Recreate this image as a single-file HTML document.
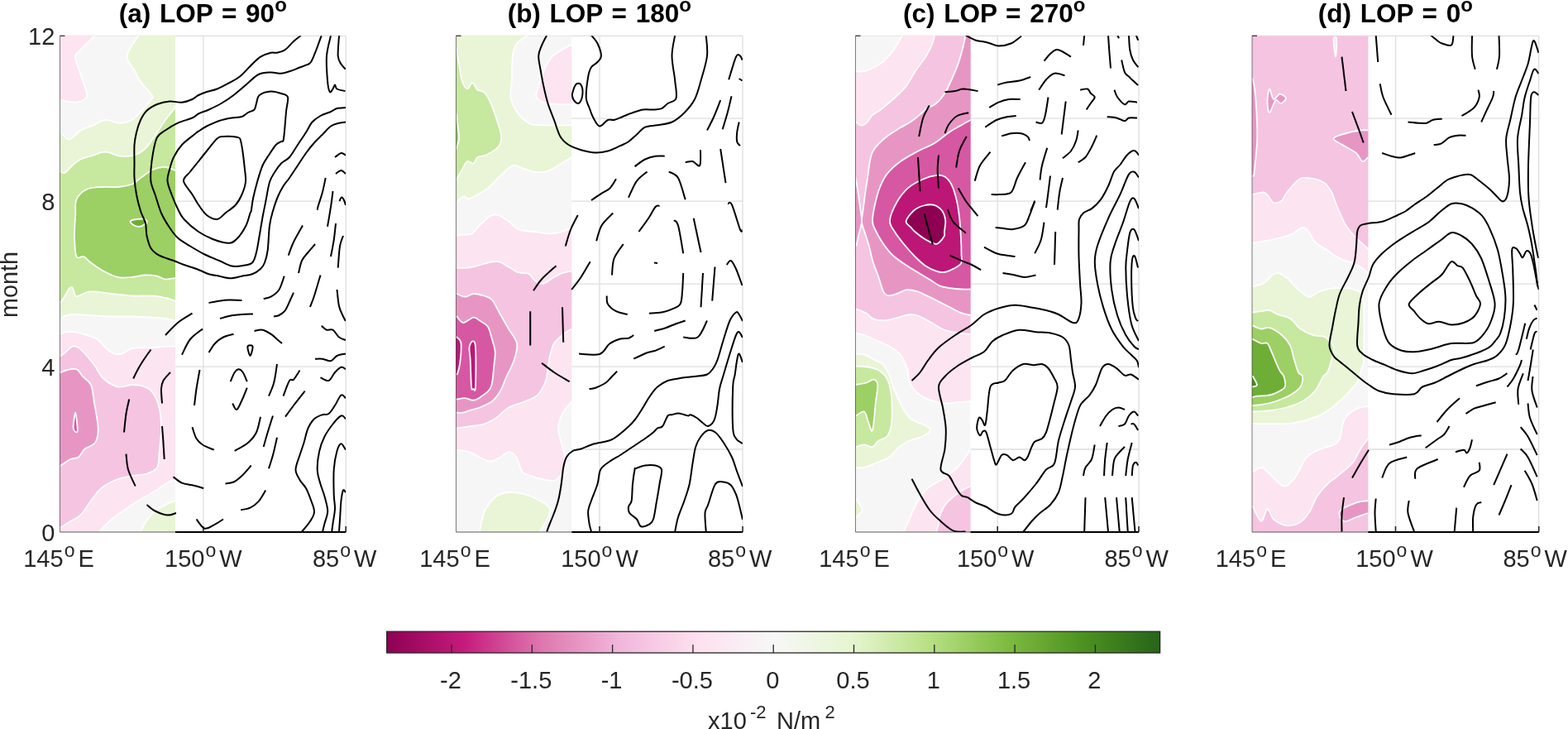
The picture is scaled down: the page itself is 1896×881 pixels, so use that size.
<!DOCTYPE html><html><head><meta charset="utf-8"><title>LOP panels</title><style>html,body{margin:0;padding:0;background:#fff;overflow:hidden}svg{display:block}</style></head><body><svg width="1896" height="881" viewBox="0 0 1896 881"><rect width="1896" height="881" fill="#fff"/><clipPath id="c0"><rect x="72.5" y="43.3" width="139.5" height="599.7"/></clipPath>
<clipPath id="a0"><rect x="72.5" y="43.3" width="345.7" height="599.7"/></clipPath>
<g stroke="#dedede" stroke-width="1.3" fill="none">
<line x1="72.5" y1="43.3" x2="418.2" y2="43.3"/>
<line x1="418.2" y1="43.3" x2="418.2" y2="643"/>
<line x1="245.8" y1="43.3" x2="245.8" y2="643"/>
<line x1="72.5" y1="243.2" x2="418.2" y2="243.2"/>
<line x1="72.5" y1="443.1" x2="418.2" y2="443.1"/>
</g>
<g clip-path="url(#c0)">
<rect x="72.5" y="43.3" width="139.5" height="599.7" fill="#f6f6f6"/>
<path d="M60.0,121.0 L60.0,30.0 L117.0,30.0 L115.0,42.5 C112.1,45.4 101.5,55.6 97.5,60.0 C93.5,64.4 91.0,63.7 91.0,68.7 C91.0,73.7 95.2,82.7 97.5,90.0 C99.8,97.3 104.0,107.7 105.0,112.5 C106.0,117.3 105.8,116.8 103.7,118.7 C101.6,120.6 97.5,123.3 92.5,123.7 C87.5,124.1 76.8,121.5 73.7,121.0Z" fill="#fce4f0" stroke="#fff" stroke-width="1.8" stroke-linejoin="round"/>
<path d="M170.0,30.0 L167.5,42.5 C165.2,46.7 154.5,60.4 153.7,67.5 C152.9,74.6 159.6,79.6 162.5,85.0 C165.4,90.4 167.5,95.0 171.0,100.0 C174.5,105.0 181.8,111.5 183.7,115.0 C185.6,118.5 184.8,117.7 182.5,121.0 C180.2,124.3 174.2,130.8 170.0,135.0 C165.8,139.2 161.9,143.7 157.5,146.0 C153.1,148.3 148.7,148.9 143.7,148.7 C138.7,148.5 133.1,144.4 127.5,145.0 C121.9,145.6 115.0,150.4 110.0,152.5 C105.0,154.6 101.9,154.8 97.5,157.5 C93.1,160.2 87.7,168.3 83.7,168.7 C79.7,169.1 75.4,161.4 73.7,160.0 L60.0,160.0 L60.0,385.0 L73.7,385.0 C74.8,384.4 77.3,382.0 80.0,381.2 C82.7,380.4 85.0,380.0 90.0,380.0 C95.0,380.0 102.5,380.8 110.0,381.2 C117.5,381.6 126.7,382.3 135.0,382.5 C143.3,382.7 151.7,382.3 160.0,382.5 C168.3,382.7 178.3,383.3 185.0,383.7 C191.7,384.1 195.5,384.4 200.0,385.0 C204.5,385.6 210.0,387.1 212.0,387.5 L225.0,387.5 L225.0,30.0Z" fill="#e9f5d6" stroke="#fff" stroke-width="1.8" stroke-linejoin="round"/>
<path d="M225.0,130.0 L212.0,130.0 C210.0,132.5 204.5,138.8 200.0,145.0 C195.5,151.2 189.2,161.7 185.0,167.5 C180.8,173.3 178.8,176.7 175.0,180.0 C171.2,183.3 167.5,186.1 162.5,187.5 C157.5,188.9 150.8,189.3 145.0,188.7 C139.2,188.1 133.3,183.7 127.5,183.7 C121.7,183.7 115.0,187.2 110.0,188.7 C105.0,190.2 101.2,190.6 97.5,192.5 C93.8,194.4 90.6,197.3 87.5,200.0 C84.4,202.7 81.0,207.4 78.7,208.7 C76.4,209.9 74.5,207.7 73.7,207.5 L60.0,207.5 L60.0,365.0 L73.7,365.0 C74.8,363.3 78.3,357.7 80.0,355.0 C81.7,352.3 82.5,349.9 83.7,348.7 C85.0,347.4 86.2,346.0 87.5,347.5 C88.8,349.0 90.0,355.8 91.2,357.5 C92.5,359.2 91.9,358.3 95.0,357.5 C98.1,356.7 103.3,352.9 110.0,352.5 C116.7,352.1 126.7,354.2 135.0,355.0 C143.3,355.8 151.7,357.1 160.0,357.5 C168.3,357.9 178.3,357.1 185.0,357.5 C191.7,357.9 195.5,359.0 200.0,360.0 C204.5,361.0 210.0,363.1 212.0,363.7 L225.0,363.7Z" fill="#c7e89f" stroke="#fff" stroke-width="1.8" stroke-linejoin="round"/>
<path d="M225.0,206.0 L212.0,206.0 C210.0,205.3 204.5,202.2 200.0,202.0 C195.5,201.8 190.0,202.8 185.0,205.0 C180.0,207.2 174.2,212.1 170.0,215.0 C165.8,217.9 164.6,220.7 160.0,222.5 C155.4,224.3 148.3,225.4 142.5,226.0 C136.7,226.6 131.2,225.6 125.0,226.0 C118.8,226.4 110.4,226.2 105.0,228.7 C99.6,231.2 94.8,235.8 92.5,241.0 C90.2,246.2 91.6,252.7 91.2,260.0 C90.8,267.3 89.8,276.7 90.0,285.0 C90.2,293.3 90.6,305.8 92.5,310.0 C94.4,314.2 98.3,308.8 101.2,310.0 C104.1,311.2 106.0,314.6 110.0,317.5 C114.0,320.4 119.6,324.6 125.0,327.5 C130.4,330.4 136.7,333.8 142.5,335.0 C148.3,336.2 154.6,335.4 160.0,335.0 C165.4,334.6 170.0,332.7 175.0,332.5 C180.0,332.3 185.8,332.9 190.0,333.7 C194.2,334.5 196.3,337.1 200.0,337.5 C203.7,337.9 210.0,336.2 212.0,336.0 L225.0,336.0Z" fill="#9ccf64" stroke="#fff" stroke-width="1.8" stroke-linejoin="round"/>
<path d="M157.5,267.5 C157.9,266.2 162.1,265.4 165.0,265.0 C167.9,264.6 172.9,264.4 175.0,265.0 C177.1,265.6 178.3,267.2 177.5,268.7 C176.7,270.1 172.5,273.1 170.0,273.7 C167.5,274.3 164.6,273.5 162.5,272.5 C160.4,271.5 157.1,268.8 157.5,267.5Z" fill="#6eae36" stroke="#fff" stroke-width="1.8" stroke-linejoin="round"/>
<path d="M225.0,418.7 L212.0,418.7 C210.0,418.7 204.5,418.5 200.0,418.7 C195.5,418.9 191.7,419.6 185.0,420.0 C178.3,420.4 166.2,419.9 160.0,421.2 C153.8,422.4 151.2,426.4 147.5,427.5 C143.8,428.6 140.8,428.8 137.5,427.5 C134.2,426.2 130.8,422.9 127.5,420.0 C124.2,417.1 121.2,412.5 117.5,410.0 C113.8,407.5 109.6,406.5 105.0,405.0 C100.4,403.5 94.2,401.8 90.0,401.2 C85.8,400.6 82.7,400.8 80.0,401.2 C77.3,401.6 74.8,403.3 73.7,403.7 L60.0,403.7 L60.0,655.0 L112.0,655.0 L120.0,642.5 C122.5,640.0 129.6,632.1 135.0,627.5 C140.4,622.9 147.1,618.8 152.5,615.0 C157.9,611.2 162.1,608.3 167.5,605.0 C172.9,601.7 179.6,598.3 185.0,595.0 C190.4,591.7 195.5,587.7 200.0,585.0 C204.5,582.3 210.0,579.8 212.0,578.7 L225.0,578.7Z" fill="#fce4f0" stroke="#fff" stroke-width="1.8" stroke-linejoin="round"/>
<path d="M225.0,605.0 L212.0,605.0 C210.0,605.8 204.5,607.5 200.0,610.0 C195.5,612.5 189.2,616.2 185.0,620.0 C180.8,623.8 177.5,628.8 175.0,632.5 C172.5,636.2 170.8,640.8 170.0,642.5 L167.0,655.0 L225.0,655.0Z" fill="#e9f5d6" stroke="#fff" stroke-width="1.8" stroke-linejoin="round"/>
<path d="M60.0,430.0 L73.7,430.0 C74.8,429.2 77.7,426.9 80.0,425.0 C82.3,423.1 85.0,419.5 87.5,418.7 C90.0,417.9 92.1,418.1 95.0,420.0 C97.9,421.9 101.7,426.2 105.0,430.0 C108.3,433.8 111.7,437.9 115.0,442.5 C118.3,447.1 120.4,453.3 125.0,457.5 C129.6,461.7 136.7,466.2 142.5,467.5 C148.3,468.8 154.6,465.0 160.0,465.0 C165.4,465.0 170.8,465.8 175.0,467.5 C179.2,469.2 182.1,470.8 185.0,475.0 C187.9,479.2 190.8,485.4 192.5,492.5 C194.2,499.6 195.0,508.3 195.0,517.5 C195.0,526.7 193.3,539.6 192.5,547.5 C191.7,555.4 192.5,560.8 190.0,565.0 C187.5,569.2 182.5,570.8 177.5,572.5 C172.5,574.2 166.2,573.8 160.0,575.0 C153.8,576.2 146.2,577.5 140.0,580.0 C133.8,582.5 127.5,585.8 122.5,590.0 C117.5,594.2 114.2,599.6 110.0,605.0 C105.8,610.4 101.7,618.3 97.5,622.5 C93.3,626.7 89.0,627.5 85.0,630.0 C81.0,632.5 75.6,636.2 73.7,637.5 L60.0,640.0Z" fill="#f5c4e1" stroke="#fff" stroke-width="1.8" stroke-linejoin="round"/>
<path d="M60.0,450.0 L73.7,450.0 C74.8,449.6 76.9,448.1 80.0,447.5 C83.1,446.9 89.2,444.9 92.5,446.2 C95.8,447.4 97.1,451.9 100.0,455.0 C102.9,458.1 107.7,460.0 110.0,465.0 C112.3,470.0 112.2,476.2 113.7,485.0 C115.2,493.8 118.5,509.2 118.7,517.5 C118.9,525.8 117.7,530.8 115.0,535.0 C112.3,539.2 105.8,539.6 102.5,542.5 C99.2,545.4 97.9,550.4 95.0,552.5 C92.1,554.6 88.5,553.3 85.0,555.0 C81.5,556.7 75.6,561.2 73.7,562.5 L60.0,565.0Z" fill="#e796c4" stroke="#fff" stroke-width="1.8" stroke-linejoin="round"/>
<path d="M91.2,498.7 C92.0,499.3 94.1,518.1 93.7,521.2 C93.3,524.3 89.1,521.2 88.7,517.5 C88.3,513.8 90.4,498.1 91.2,498.7Z" fill="#d658a2" stroke="#fff" stroke-width="1.8" stroke-linejoin="round"/>
</g>
<line x1="72.5" y1="643" x2="418.2" y2="643" stroke="#262626" stroke-width="1" opacity="0.75"/>
<line x1="72.5" y1="43.3" x2="72.5" y2="643" stroke="#262626" stroke-width="1" opacity="0.6"/>
<line x1="212" y1="643" x2="418.2" y2="643" stroke="#000" stroke-width="2"/>
<line x1="245.8" y1="636" x2="245.8" y2="643" stroke="#262626" stroke-width="1.6"/>
<line x1="418.2" y1="636" x2="418.2" y2="643" stroke="#262626" stroke-width="1.6"/>
<line x1="72.5" y1="43.3" x2="78.5" y2="43.3" stroke="#262626" stroke-width="1.2"/>
<g clip-path="url(#a0)" fill="none" stroke="#000" stroke-width="2" stroke-linejoin="round" stroke-linecap="butt">
<path d="M363.7,43.0 C362.2,44.2 358.1,47.2 355.0,50.0 C351.9,52.8 348.3,57.7 345.0,60.0 C341.7,62.3 337.9,63.1 335.0,63.7 C332.1,64.3 330.8,62.9 327.5,63.7 C324.2,64.5 319.2,66.0 315.0,68.7 C310.8,71.4 306.7,76.0 302.5,80.0 C298.3,84.0 294.2,89.2 290.0,92.5 C285.8,95.8 282.1,97.5 277.5,100.0 C272.9,102.5 267.1,105.7 262.5,107.5 C257.9,109.3 253.8,109.8 250.0,111.0 C246.2,112.2 242.9,113.5 240.0,115.0 C237.1,116.5 235.8,118.5 232.5,120.0 C229.2,121.5 224.6,123.3 220.0,123.7 C215.4,124.1 210.0,122.1 205.0,122.5 C200.0,122.9 194.6,124.1 190.0,126.0 C185.4,127.9 180.8,130.5 177.5,133.7 C174.2,136.9 172.1,140.6 170.0,145.0 C167.9,149.4 166.2,155.0 165.0,160.0 C163.8,165.0 162.9,168.8 162.5,175.0 C162.1,181.2 162.5,190.8 162.5,197.5 C162.5,204.2 162.1,208.8 162.5,215.0 C162.9,221.2 163.8,228.3 165.0,235.0 C166.2,241.7 168.2,249.2 170.0,255.0 C171.8,260.8 174.8,265.0 176.0,270.0 C177.2,275.0 176.4,280.0 177.5,285.0 C178.6,290.0 180.0,296.1 182.5,300.0 C185.0,303.9 187.9,306.2 192.5,308.7 C197.1,311.2 205.0,313.1 210.0,315.0 C215.0,316.9 217.5,318.2 222.5,320.0 C227.5,321.8 235.0,324.1 240.0,326.0 C245.0,327.9 248.3,329.9 252.5,331.2 C256.7,332.5 260.6,332.9 265.0,333.7 C269.4,334.5 274.1,336.2 278.7,336.2 C283.3,336.2 288.1,334.5 292.5,333.7 C296.9,332.9 301.2,332.6 305.0,331.2 C308.8,329.8 312.5,327.3 315.0,325.0 C317.5,322.7 318.6,321.2 320.0,317.5 C321.4,313.8 322.7,310.0 323.7,302.5 C324.7,295.0 324.9,280.4 326.0,272.5 C327.1,264.6 328.3,260.8 330.0,255.0 C331.7,249.2 333.9,242.5 336.0,237.5 C338.1,232.5 340.2,228.8 342.5,225.0 C344.8,221.2 347.1,219.2 350.0,215.0 C352.9,210.8 356.7,205.0 360.0,200.0 C363.3,195.0 366.7,189.6 370.0,185.0 C373.3,180.4 376.7,176.2 380.0,172.5 C383.3,168.8 386.7,165.8 390.0,162.5 C393.3,159.2 396.7,154.8 400.0,152.5 C403.3,150.2 407.0,149.5 410.0,148.7 C413.0,147.9 416.7,147.7 418.0,147.5"/>
<path d="M388.7,43.0 C387.7,45.8 384.6,54.7 382.5,60.0 C380.4,65.3 378.1,71.9 376.0,75.0 C373.9,78.1 372.7,77.5 370.0,78.7 C367.3,80.0 363.3,81.2 360.0,82.5 C356.7,83.8 353.3,85.2 350.0,86.2 C346.7,87.2 343.8,88.5 340.0,88.7 C336.2,88.9 332.1,87.3 327.5,87.5 C322.9,87.7 317.5,87.5 312.5,90.0 C307.5,92.5 302.5,98.3 297.5,102.5 C292.5,106.7 287.5,111.2 282.5,115.0 C277.5,118.8 272.5,122.1 267.5,125.0 C262.5,127.9 257.1,130.4 252.5,132.5 C247.9,134.6 243.3,135.8 240.0,137.5 C236.7,139.2 236.7,140.6 232.5,142.5 C228.3,144.4 220.4,146.2 215.0,148.7 C209.6,151.2 204.2,154.6 200.0,157.5 C195.8,160.4 192.5,161.4 190.0,166.0 C187.5,170.6 186.2,178.5 185.0,185.0 C183.8,191.5 182.9,199.2 182.5,205.0 C182.1,210.8 181.7,215.0 182.5,220.0 C183.3,225.0 185.4,228.8 187.5,235.0 C189.6,241.2 192.1,250.8 195.0,257.5 C197.9,264.2 201.7,270.0 205.0,275.0 C208.3,280.0 210.8,283.8 215.0,287.5 C219.2,291.2 224.6,294.2 230.0,297.5 C235.4,300.8 241.7,304.6 247.5,307.5 C253.3,310.4 259.6,312.7 265.0,315.0 C270.4,317.3 275.4,320.5 280.0,321.5 C284.6,322.5 288.3,321.9 292.5,321.2 C296.7,320.5 302.1,320.2 305.0,317.5 C307.9,314.8 308.6,310.4 310.0,305.0 C311.4,299.6 312.4,292.1 313.7,285.0 C314.9,277.9 316.3,269.2 317.5,262.5 C318.7,255.8 319.6,252.1 321.0,245.0 C322.4,237.9 324.1,226.2 326.0,220.0 C327.9,213.8 330.2,211.2 332.5,207.5 C334.8,203.8 337.1,200.4 340.0,197.5 C342.9,194.6 346.7,193.8 350.0,190.0 C353.3,186.2 356.7,180.0 360.0,175.0 C363.3,170.0 367.1,164.6 370.0,160.0 C372.9,155.4 374.6,150.8 377.5,147.5 C380.4,144.2 383.8,142.1 387.5,140.0 C391.2,137.9 396.7,136.5 400.0,135.0 C403.3,133.5 404.5,131.8 407.5,131.0 C410.5,130.2 416.2,130.2 418.0,130.0"/>
<path d="M303.7,255.0 C304.3,252.1 304.8,245.8 306.0,240.0 C307.2,234.2 309.1,226.7 311.0,220.0 C312.9,213.3 315.2,205.4 317.5,200.0 C319.8,194.6 322.3,191.7 325.0,187.5 C327.7,183.3 331.2,177.8 333.7,175.0 C336.2,172.2 338.4,172.2 340.0,171.0 C341.6,169.8 342.0,173.5 343.0,167.5 C344.0,161.5 345.2,143.3 346.0,135.0 C346.8,126.7 349.0,121.2 348.0,117.5 C347.0,113.8 343.4,114.2 340.0,113.0 C336.6,111.8 331.9,110.2 327.5,110.5 C323.1,110.8 316.6,112.6 313.7,115.0 C310.8,117.4 311.0,122.1 310.0,125.0 C309.0,127.9 309.2,130.7 307.5,132.5 C305.8,134.3 302.5,134.6 300.0,136.0 C297.5,137.4 295.8,139.9 292.5,141.0 C289.2,142.1 284.6,141.7 280.0,142.5 C275.4,143.3 270.0,144.3 265.0,146.0 C260.0,147.7 254.2,150.4 250.0,152.5 C245.8,154.6 242.5,157.0 240.0,158.7 C237.5,160.4 238.3,159.8 235.0,162.5 C231.7,165.2 224.2,170.4 220.0,175.0 C215.8,179.6 212.5,185.0 210.0,190.0 C207.5,195.0 206.2,200.2 205.0,205.0 C203.8,209.8 202.1,213.7 202.5,218.7 C202.9,223.7 205.4,229.4 207.5,235.0 C209.6,240.6 212.5,247.5 215.0,252.5 C217.5,257.5 218.3,260.4 222.5,265.0 C226.7,269.6 233.8,275.8 240.0,280.0 C246.2,284.2 253.8,287.7 260.0,290.0 C266.2,292.3 272.9,294.1 277.5,293.7 C282.1,293.3 284.2,291.0 287.5,287.5 C290.8,284.0 295.0,277.5 297.5,272.5 C300.0,267.5 301.5,260.4 302.5,257.5 C303.5,254.6 303.1,257.9 303.7,255.0Z"/>
<path d="M222.0,218.7 C221.6,214.1 227.0,211.4 230.0,207.5 C233.0,203.6 236.7,199.2 240.0,195.0 C243.3,190.8 246.2,187.1 250.0,182.5 C253.8,177.9 259.2,170.4 262.5,167.5 C265.8,164.6 265.8,165.2 270.0,165.0 C274.2,164.8 284.0,165.2 287.5,166.0 C291.0,166.8 290.0,166.8 291.0,170.0 C292.0,173.2 292.9,179.2 293.7,185.0 C294.5,190.8 295.4,199.2 296.0,205.0 C296.6,210.8 297.6,215.0 297.0,220.0 C296.4,225.0 294.5,230.4 292.5,235.0 C290.5,239.6 288.3,243.8 285.0,247.5 C281.7,251.2 276.2,254.6 272.5,257.5 C268.8,260.4 266.2,264.6 262.5,265.0 C258.8,265.4 253.8,262.9 250.0,260.0 C246.2,257.1 242.9,251.7 240.0,247.5 C237.1,243.3 235.5,239.8 232.5,235.0 C229.5,230.2 222.4,223.3 222.0,218.7Z"/>
<path d="M400.0,43.0 C399.2,47.1 395.7,58.4 395.0,67.5 C394.3,76.6 395.4,90.2 396.0,97.5 C396.6,104.8 397.6,109.3 398.7,111.0 C399.8,112.7 401.4,108.9 402.5,107.5 C403.6,106.1 404.2,102.5 405.0,102.5 C405.8,102.5 405.4,106.2 407.5,107.5 C409.6,108.8 415.8,109.6 417.5,110.0"/>
<path d="M410.0,43.0 C409.8,47.1 408.3,61.8 408.7,67.5 C409.1,73.2 410.9,74.8 412.5,77.5 C414.1,80.2 417.1,82.7 418.0,83.7"/>
<path d="M418.0,481.2 C417.1,480.6 414.7,476.0 412.5,477.5 C410.3,479.0 407.5,486.2 405.0,490.0 C402.5,493.8 400.0,498.1 397.5,500.0 C395.0,501.9 392.9,500.2 390.0,501.2 C387.1,502.2 382.9,503.5 380.0,506.2 C377.1,508.9 374.6,512.7 372.5,517.5 C370.4,522.3 369.2,529.6 367.5,535.0 C365.8,540.4 364.2,544.6 362.5,550.0 C360.8,555.4 357.5,562.5 357.5,567.5 C357.5,572.5 360.4,576.2 362.5,580.0 C364.6,583.8 367.7,585.8 370.0,590.0 C372.3,594.2 374.5,600.2 376.2,605.0 C377.9,609.8 380.2,614.5 380.0,618.7 C379.8,622.9 377.5,626.0 375.0,630.0 C372.5,634.0 366.7,640.4 365.0,642.5"/>
<path d="M418.0,506.2 C417.1,505.6 415.1,501.4 412.5,502.5 C409.9,503.6 405.8,508.3 402.5,512.5 C399.2,516.7 395.2,522.1 392.5,527.5 C389.8,532.9 387.7,538.3 386.2,545.0 C384.7,551.7 383.5,560.8 383.7,567.5 C383.9,574.2 386.0,579.6 387.5,585.0 C389.0,590.4 391.1,594.6 392.5,600.0 C393.9,605.4 396.2,612.1 396.2,617.5 C396.2,622.9 393.5,628.3 392.5,632.5 C391.5,636.7 390.4,640.8 390.0,642.5"/>
<path d="M418.0,543.7 C417.1,542.5 414.2,536.0 412.5,536.2 C410.8,536.4 409.0,539.8 407.5,545.0 C406.0,550.2 404.3,558.8 403.7,567.5 C403.1,576.2 403.5,589.6 403.7,597.5 C403.9,605.4 405.2,609.2 405.0,615.0 C404.8,620.8 403.1,627.9 402.5,632.5 C401.9,637.1 401.4,640.8 401.2,642.5"/>
<path d="M418.0,595.0 C417.5,594.6 415.9,590.8 415.0,592.5 C414.1,594.2 413.1,599.6 412.5,605.0 C411.9,610.4 411.6,618.8 411.2,625.0 C410.8,631.2 410.2,639.6 410.0,642.5"/>
<path d="M405.0,190.0 C406.2,189.2 410.3,185.4 412.5,185.0 C414.7,184.6 417.1,187.1 418.0,187.5"/>
<path d="M406.0,210.0 C407.1,209.3 410.5,206.0 412.5,206.0 C414.5,206.0 417.1,209.3 418.0,210.0"/>
<path d="M393.7,215.0 C393.1,217.8 391.4,226.5 390.0,232.0 C388.6,237.5 386.1,244.4 385.0,248.0 C383.9,251.6 383.9,252.8 383.7,253.7"/>
<path d="M402.5,231.0 C402.1,234.2 401.1,242.9 400.0,250.0 C398.9,257.1 396.7,269.8 396.0,273.7"/>
<path d="M410.5,243.0 C410.9,242.2 412.1,238.7 413.0,238.5 C413.9,238.3 415.2,240.4 416.0,242.0 C416.8,243.6 417.7,247.0 418.0,248.0"/>
<path d="M252.5,366.0 C254.6,365.6 260.8,364.3 265.0,363.7 C269.2,363.1 272.9,362.6 277.5,362.5 C282.1,362.4 290.0,362.9 292.5,363.0"/>
<path d="M266.0,385.0 C268.3,384.4 275.6,382.0 280.0,381.2 C284.4,380.4 288.2,380.3 292.5,380.0 C296.8,379.7 303.8,379.6 306.0,379.5"/>
<path d="M200.0,405.0 C202.5,402.5 209.6,394.4 215.0,390.0 C220.4,385.6 229.6,380.6 232.5,378.7"/>
<path d="M220.0,428.7 C221.7,425.6 225.8,415.2 230.0,410.0 C234.2,404.8 242.5,399.6 245.0,397.5"/>
<path d="M252.5,426.0 C253.8,424.2 257.1,418.1 260.0,415.0 C262.9,411.9 266.2,409.4 270.0,407.5 C273.8,405.6 280.4,404.3 282.5,403.7"/>
<path d="M161.2,457.5 C162.2,455.4 165.2,449.1 167.5,445.0 C169.8,440.9 172.5,436.8 175.0,433.0 C177.5,429.2 181.2,424.2 182.5,422.5"/>
<path d="M206.0,450.0 C204.6,451.7 199.3,456.7 197.5,460.0 C195.7,463.3 195.2,465.4 195.0,470.0 C194.8,474.6 195.8,484.6 196.0,487.5"/>
<path d="M241.5,447.0 C240.8,450.8 238.6,462.8 237.5,470.0 C236.4,477.2 235.4,486.7 235.0,490.0"/>
<path d="M348.7,308.7 C349.8,306.0 352.1,298.5 355.0,292.5 C357.9,286.5 364.2,275.8 366.0,272.5"/>
<path d="M361.0,330.0 C361.7,327.5 363.1,319.2 365.0,315.0 C366.9,310.8 369.8,308.3 372.5,305.0 C375.2,301.7 379.6,296.7 381.0,295.0"/>
<path d="M400.0,310.0 C400.6,306.7 402.7,296.7 403.7,290.0 C404.7,283.3 405.6,273.3 406.0,270.0"/>
<path d="M408.7,323.7 C409.1,319.3 409.9,303.9 411.0,297.5 C412.1,291.1 414.3,287.1 415.0,285.0"/>
<path d="M318.7,361.0 C320.2,360.6 324.4,360.5 327.5,358.7 C330.6,356.9 334.8,354.2 337.5,350.0 C340.2,345.8 342.7,336.4 343.7,333.7"/>
<path d="M331.0,382.5 C332.1,382.2 335.2,382.2 337.5,381.0 C339.8,379.8 342.8,378.1 345.0,375.0 C347.2,371.9 349.3,366.1 351.0,362.5 C352.7,358.9 354.3,355.2 355.0,353.7"/>
<path d="M375.0,371.0 C375.8,368.8 377.9,363.9 380.0,357.5 C382.1,351.1 386.2,336.7 387.5,332.5"/>
<path d="M407.5,350.0 C407.9,353.3 408.8,364.6 410.0,370.0 C411.2,375.4 413.7,379.5 415.0,382.5 C416.3,385.5 417.5,387.1 418.0,388.0"/>
<path d="M307.5,400.0 C309.2,399.8 314.2,398.1 317.5,398.7 C320.8,399.3 324.6,401.8 327.5,403.7 C330.4,405.6 332.8,408.1 335.0,410.0 C337.2,411.9 340.0,414.2 341.0,415.0"/>
<path d="M299.5,418.7 C300.0,416.8 305.0,416.8 305.5,418.7 C306.0,420.6 303.5,430.0 302.5,430.0 C301.5,430.0 299.0,420.6 299.5,418.7Z"/>
<path d="M388.7,393.7 C389.8,394.5 392.7,397.9 395.0,398.7 C397.3,399.5 400.0,397.2 402.5,398.7 C405.0,400.2 407.4,405.4 410.0,407.5 C412.6,409.6 416.7,410.4 418.0,411.0"/>
<path d="M381.0,433.7 C382.5,433.7 386.8,433.3 390.0,433.7 C393.2,434.1 397.1,436.8 400.0,436.2 C402.9,435.6 404.5,431.4 407.5,430.0 C410.5,428.6 416.2,427.9 418.0,427.5"/>
<path d="M278.7,461.2 C279.5,459.3 282.0,452.5 283.7,450.0 C285.4,447.5 287.0,446.2 288.7,446.2 C290.4,446.2 292.0,447.5 293.7,450.0 C295.4,452.5 297.9,459.3 298.7,461.2"/>
<path d="M335.0,440.0 C334.4,443.8 332.9,456.1 331.2,462.5 C329.5,468.9 326.0,476.0 325.0,478.7"/>
<path d="M342.5,478.7 C343.8,475.6 347.9,463.3 350.0,460.0 C352.1,456.7 352.9,460.8 355.0,458.7 C357.1,456.6 361.2,449.4 362.5,447.5"/>
<path d="M387.5,456.2 C389.2,456.8 394.6,461.0 397.5,460.0 C400.4,459.0 402.5,452.7 405.0,450.0 C407.5,447.3 410.3,444.3 412.5,443.7 C414.7,443.1 417.1,445.8 418.0,446.2"/>
<path d="M156.2,482.5 C155.6,485.4 153.5,493.3 152.5,500.0 C151.5,506.7 150.4,518.8 150.0,522.5"/>
<path d="M196.0,515.0 C196.2,518.3 197.1,528.3 197.5,535.0 C197.9,541.7 198.5,551.7 198.7,555.0"/>
<path d="M152.5,548.7 C152.9,551.8 153.1,561.0 155.0,567.5 C156.9,574.0 162.2,584.2 163.7,587.5"/>
<path d="M232.5,516.2 C233.3,518.5 235.4,526.5 237.5,530.0 C239.6,533.5 241.5,535.2 245.0,537.5 C248.5,539.8 256.4,542.7 258.7,543.7"/>
<path d="M209.5,576.2 C211.2,577.5 216.2,582.0 220.0,583.7 C223.8,585.4 228.1,585.2 232.5,586.2 C236.9,587.2 243.9,589.4 246.2,590.0"/>
<path d="M177.5,610.0 C179.2,611.2 183.3,615.4 187.5,617.5 C191.7,619.6 198.2,622.1 202.5,622.5 C206.8,622.9 211.2,620.4 213.0,620.0"/>
<path d="M237.5,627.5 C239.2,629.4 243.8,637.7 247.5,638.7 C251.2,639.7 256.2,635.6 260.0,633.7 C263.8,631.8 268.3,628.5 270.0,627.5"/>
<path d="M272.5,584.5 C274.2,584.2 279.2,584.1 282.5,582.5 C285.8,580.9 289.0,578.3 292.5,575.0 C296.0,571.7 301.8,564.6 303.7,562.5"/>
<path d="M298.7,468.7 C297.7,471.2 294.6,479.3 292.5,483.7 C290.4,488.1 288.1,494.4 286.2,495.0 C284.3,495.6 282.0,488.8 281.2,487.5"/>
<path d="M368.7,472.5 C366.4,475.4 358.9,484.8 355.0,490.0 C351.1,495.2 346.7,501.4 345.0,503.7"/>
<path d="M283.7,545.0 C286.4,543.3 295.6,538.8 300.0,535.0 C304.4,531.2 307.5,527.7 310.0,522.5 C312.5,517.3 314.2,506.8 315.0,503.7"/>
<path d="M318.7,540.0 C319.5,537.1 321.8,528.8 323.7,522.5 C325.6,516.2 328.9,505.8 330.0,502.5"/>
<path d="M325.0,566.2 C325.8,563.5 328.3,556.2 330.0,550.0 C331.7,543.8 334.2,532.2 335.0,528.7"/>
<path d="M291.2,616.2 C293.1,615.8 298.9,615.4 302.5,613.7 C306.1,612.0 309.4,609.7 312.5,606.2 C315.6,602.7 319.8,594.8 321.2,592.5"/>
</g>
<text x="245.3" y="26.6" text-anchor="middle" font-family="'Liberation Sans', Arial, Helvetica, sans-serif" font-weight="bold" font-size="31.5" word-spacing="2" fill="#000">(a) LOP = 90<tspan font-size="24" dy="-12.6" dx="0">o</tspan></text>
<text x="71.0" y="684.8" text-anchor="middle" font-family="'Liberation Sans', Arial, Helvetica, sans-serif" font-size="29" fill="#262626">145<tspan font-size="23" dy="-11.5" dx="1.0">o</tspan><tspan dy="11.5" dx="4.0">E</tspan></text>
<text x="245.8" y="684.8" text-anchor="middle" font-family="'Liberation Sans', Arial, Helvetica, sans-serif" font-size="29" fill="#262626">150<tspan font-size="23" dy="-11.5" dx="1.0">o</tspan><tspan dy="11.5" dx="4.0">W</tspan></text>
<text x="416.7" y="684.8" text-anchor="middle" font-family="'Liberation Sans', Arial, Helvetica, sans-serif" font-size="29" fill="#262626">85<tspan font-size="23" dy="-11.5" dx="1.0">o</tspan><tspan dy="11.5" dx="4.0">W</tspan></text>
<clipPath id="c1"><rect x="551.5" y="43.3" width="139.8" height="599.7"/></clipPath>
<clipPath id="a1"><rect x="551.5" y="43.3" width="346.5" height="599.7"/></clipPath>
<g stroke="#dedede" stroke-width="1.3" fill="none">
<line x1="551.5" y1="43.3" x2="898" y2="43.3"/>
<line x1="898" y1="43.3" x2="898" y2="643"/>
<line x1="725" y1="43.3" x2="725" y2="643"/>
<line x1="551.5" y1="143.2" x2="898" y2="143.2"/>
<line x1="551.5" y1="243.2" x2="898" y2="243.2"/>
<line x1="551.5" y1="343.1" x2="898" y2="343.1"/>
<line x1="551.5" y1="443.1" x2="898" y2="443.1"/>
<line x1="551.5" y1="543" x2="898" y2="543"/>
</g>
<g clip-path="url(#c1)">
<rect x="551.5" y="43.3" width="139.8" height="599.7" fill="#f6f6f6"/>
<path d="M638.7,30.0 L638.7,42.5 C636.4,44.2 628.1,48.3 625.0,52.5 C621.9,56.7 621.0,60.0 620.0,67.5 C619.0,75.0 619.1,89.2 618.7,97.5 C618.3,105.8 616.5,111.2 617.5,117.5 C618.5,123.8 621.7,130.0 625.0,135.0 C628.3,140.0 633.3,144.8 637.5,147.5 C641.7,150.2 641.0,150.6 650.0,151.2 C659.0,151.8 684.3,151.2 691.2,151.2 L705.0,151.2 L705.0,190.0 L691.2,190.0 C688.5,191.7 680.2,197.1 675.0,200.0 C669.8,202.9 665.0,206.2 660.0,207.5 C655.0,208.8 650.0,208.3 645.0,207.5 C640.0,206.7 634.2,203.8 630.0,202.5 C625.8,201.2 623.8,198.8 620.0,200.0 C616.2,201.2 612.5,205.4 607.5,210.0 C602.5,214.6 595.0,223.3 590.0,227.5 C585.0,231.7 581.2,232.9 577.5,235.0 C573.8,237.1 570.4,239.6 567.5,240.0 C564.6,240.4 562.6,236.7 560.0,237.5 C557.4,238.3 553.1,243.8 551.7,245.0 L540.0,247.0 L540.0,30.0Z" fill="#e9f5d6" stroke="#fff" stroke-width="1.8" stroke-linejoin="round"/>
<path d="M705.0,53.7 L691.2,53.7 C689.3,54.8 684.0,57.5 680.0,60.0 C676.0,62.5 670.8,65.4 667.5,68.7 C664.2,72.0 662.1,76.0 660.0,80.0 C657.9,84.0 656.7,87.9 655.0,92.5 C653.3,97.1 651.0,103.3 650.0,107.5 C649.0,111.7 647.5,114.8 648.7,117.5 C650.0,120.2 653.1,122.2 657.5,123.7 C661.9,125.2 669.4,125.8 675.0,126.2 C680.6,126.6 688.5,126.2 691.2,126.2 L705.0,126.2Z" fill="#fce4f0" stroke="#fff" stroke-width="1.8" stroke-linejoin="round"/>
<path d="M540.0,57.5 L551.7,57.5 C552.2,60.8 553.8,70.8 555.0,77.5 C556.2,84.2 557.0,92.5 558.7,97.5 C560.4,102.5 562.9,107.1 565.0,107.5 C567.1,107.9 569.1,99.8 571.2,100.0 C573.3,100.2 575.2,106.8 577.5,108.7 C579.8,110.6 582.5,108.9 585.0,111.2 C587.5,113.5 590.0,117.3 592.5,122.5 C595.0,127.7 597.7,135.4 600.0,142.5 C602.3,149.6 605.8,159.2 606.2,165.0 C606.6,170.8 605.6,173.8 602.5,177.5 C599.4,181.2 591.7,185.4 587.5,187.5 C583.3,189.6 580.0,188.3 577.5,190.0 C575.0,191.7 574.6,196.7 572.5,197.5 C570.4,198.3 567.3,193.8 565.0,195.0 C562.7,196.2 560.9,201.2 558.7,205.0 C556.5,208.8 552.9,215.4 551.7,217.5 L540.0,217.5Z" fill="#c7e89f" stroke="#fff" stroke-width="1.8" stroke-linejoin="round"/>
<path d="M540.0,137.5 L551.7,137.5 C552.0,140.0 553.2,147.5 553.7,152.5 C554.2,157.5 555.3,162.9 555.0,167.5 C554.7,172.1 552.2,177.9 551.7,180.0 L540.0,180.0Z" fill="#9ccf64" stroke="#fff" stroke-width="1.8" stroke-linejoin="round"/>
<path d="M705.0,275.0 L691.2,275.0 C689.3,275.8 684.4,278.8 680.0,280.0 C675.6,281.2 670.8,282.5 665.0,282.5 C659.2,282.5 651.2,280.8 645.0,280.0 C638.8,279.2 632.5,279.6 627.5,277.5 C622.5,275.4 619.2,270.4 615.0,267.5 C610.8,264.6 606.2,261.1 602.5,260.0 C598.8,258.9 596.2,259.1 592.5,261.2 C588.8,263.3 583.8,268.9 580.0,272.5 C576.2,276.1 573.3,280.6 570.0,282.5 C566.7,284.4 562.9,283.3 560.0,283.7 C557.1,284.1 553.8,284.8 552.5,285.0 L540.0,285.0 L540.0,543.7 L552.5,543.7 C555.0,544.1 562.9,544.7 567.5,546.2 C572.1,547.7 575.8,550.6 580.0,552.5 C584.2,554.4 588.3,557.5 592.5,557.5 C596.7,557.5 601.2,554.4 605.0,552.5 C608.8,550.6 612.1,546.6 615.0,546.2 C617.9,545.8 620.4,547.7 622.5,550.0 C624.6,552.3 625.8,556.5 627.5,560.0 C629.2,563.5 629.6,568.5 632.5,571.2 C635.4,573.9 640.4,574.7 645.0,576.2 C649.6,577.7 655.4,579.4 660.0,580.0 C664.6,580.6 669.2,581.7 672.5,580.0 C675.8,578.3 677.9,573.3 680.0,570.0 C682.1,566.7 685.0,565.0 685.0,560.0 C685.0,555.0 681.7,547.1 680.0,540.0 C678.3,532.9 675.0,524.2 675.0,517.5 C675.0,510.8 677.3,505.4 680.0,500.0 C682.7,494.6 689.3,487.5 691.2,485.0 L705.0,480.0Z" fill="#fce4f0" stroke="#fff" stroke-width="1.8" stroke-linejoin="round"/>
<path d="M705.0,327.5 L691.2,327.5 C689.3,327.9 683.5,328.8 680.0,330.0 C676.5,331.2 673.8,332.9 670.0,335.0 C666.2,337.1 661.2,341.7 657.5,342.5 C653.8,343.3 650.4,341.9 647.5,340.0 C644.6,338.1 642.5,332.9 640.0,331.2 C637.5,329.5 635.0,330.4 632.5,330.0 C630.0,329.6 627.9,329.9 625.0,328.7 C622.1,327.4 618.8,324.6 615.0,322.5 C611.2,320.4 606.7,317.0 602.5,316.2 C598.3,315.4 594.2,316.7 590.0,317.5 C585.8,318.3 581.7,320.2 577.5,321.2 C573.3,322.2 569.2,323.3 565.0,323.7 C560.8,324.1 554.6,323.7 552.5,323.7 L540.0,323.7 L540.0,517.5 L552.5,517.5 C555.4,517.1 564.6,515.8 570.0,515.0 C575.4,514.2 580.0,514.2 585.0,512.5 C590.0,510.8 595.0,508.3 600.0,505.0 C605.0,501.7 609.2,495.8 615.0,492.5 C620.8,489.2 629.2,487.5 635.0,485.0 C640.8,482.5 645.8,481.7 650.0,477.5 C654.2,473.3 657.9,465.4 660.0,460.0 C662.1,454.6 661.7,450.0 662.5,445.0 C663.3,440.0 663.8,435.0 665.0,430.0 C666.2,425.0 667.5,419.2 670.0,415.0 C672.5,410.8 676.5,407.9 680.0,405.0 C683.5,402.1 689.3,398.8 691.2,397.5 L705.0,392.0Z" fill="#f5c4e1" stroke="#fff" stroke-width="1.8" stroke-linejoin="round"/>
<path d="M540.0,355.0 L552.5,355.0 C554.2,355.6 559.2,358.7 562.5,358.7 C565.8,358.7 568.8,355.2 572.5,355.0 C576.2,354.8 581.2,356.2 585.0,357.5 C588.8,358.8 591.7,358.8 595.0,362.5 C598.3,366.2 601.7,374.2 605.0,380.0 C608.3,385.8 611.7,391.7 615.0,397.5 C618.3,403.3 623.8,409.2 625.0,415.0 C626.2,420.8 623.8,427.5 622.5,432.5 C621.2,437.5 619.2,441.2 617.5,445.0 C615.8,448.8 614.6,450.4 612.5,455.0 C610.4,459.6 607.9,467.5 605.0,472.5 C602.1,477.5 599.2,481.7 595.0,485.0 C590.8,488.3 584.6,490.6 580.0,492.5 C575.4,494.4 570.8,495.2 567.5,496.2 C564.2,497.2 562.5,498.3 560.0,498.7 C557.5,499.1 553.8,498.7 552.5,498.7 L540.0,498.7Z" fill="#e796c4" stroke="#fff" stroke-width="1.8" stroke-linejoin="round"/>
<path d="M540.0,382.5 L552.5,382.5 C553.8,383.8 556.7,389.8 560.0,390.0 C563.3,390.2 569.2,384.1 572.5,383.7 C575.8,383.3 577.1,385.6 580.0,387.5 C582.9,389.4 587.5,391.2 590.0,395.0 C592.5,398.8 593.5,405.0 595.0,410.0 C596.5,415.0 598.3,420.0 598.7,425.0 C599.1,430.0 598.3,432.9 597.5,440.0 C596.7,447.1 596.2,461.1 593.7,467.5 C591.2,473.9 586.0,476.0 582.5,478.7 C579.0,481.4 575.8,483.3 572.5,483.7 C569.2,484.1 565.8,481.4 562.5,481.2 C559.2,481.0 554.2,482.3 552.5,482.5 L540.0,482.5Z" fill="#d658a2" stroke="#fff" stroke-width="1.8" stroke-linejoin="round"/>
<path d="M567.5,420.0 C567.9,416.2 570.0,412.5 571.2,412.5 C572.5,412.5 574.4,410.8 575.0,420.0 C575.6,429.2 575.4,459.2 575.0,467.5 C574.6,475.8 573.3,470.0 572.5,470.0 C571.7,470.0 570.6,473.3 570.0,467.5 C569.4,461.7 569.1,442.9 568.7,435.0 C568.3,427.1 567.1,423.8 567.5,420.0Z" fill="#bc1776" stroke="#fff" stroke-width="1.8" stroke-linejoin="round"/>
<path d="M540.0,405.0 L552.5,407.5 C553.3,408.8 556.9,409.6 557.5,415.0 C558.1,420.4 556.8,433.8 556.0,440.0 C555.2,446.2 553.5,450.0 553.0,452.0 L540.0,455.0Z" fill="#bc1776" stroke="#fff" stroke-width="1.8" stroke-linejoin="round"/>
<path d="M579.0,655.0 L651.0,655.0 L652.5,642.5 C653.8,640.4 657.9,634.6 660.0,630.0 C662.1,625.4 666.2,619.2 665.0,615.0 C663.8,610.8 657.5,607.9 652.5,605.0 C647.5,602.1 641.2,599.2 635.0,597.5 C628.8,595.8 620.8,594.6 615.0,595.0 C609.2,595.4 604.6,596.7 600.0,600.0 C595.4,603.3 590.4,610.0 587.5,615.0 C584.6,620.0 583.8,625.4 582.5,630.0 C581.2,634.6 580.4,640.4 580.0,642.5Z" fill="#e9f5d6" stroke="#fff" stroke-width="1.8" stroke-linejoin="round"/>
</g>
<line x1="551.5" y1="643" x2="898" y2="643" stroke="#262626" stroke-width="1" opacity="0.75"/>
<line x1="551.5" y1="43.3" x2="551.5" y2="643" stroke="#262626" stroke-width="1" opacity="0.6"/>
<line x1="691.3" y1="643" x2="898" y2="643" stroke="#000" stroke-width="2"/>
<line x1="725" y1="636" x2="725" y2="643" stroke="#262626" stroke-width="1.6"/>
<line x1="898" y1="636" x2="898" y2="643" stroke="#262626" stroke-width="1.6"/>
<line x1="551.5" y1="43.3" x2="557.5" y2="43.3" stroke="#262626" stroke-width="1.2"/>
<g clip-path="url(#a1)" fill="none" stroke="#000" stroke-width="2" stroke-linejoin="round" stroke-linecap="butt">
<path d="M661.2,42.5 C660.2,44.6 656.7,50.8 655.0,55.0 C653.3,59.2 651.4,62.5 651.2,67.5 C651.0,72.5 652.7,78.8 653.7,85.0 C654.8,91.2 656.0,98.3 657.5,105.0 C659.0,111.7 660.4,118.3 662.5,125.0 C664.6,131.7 667.5,138.3 670.0,145.0 C672.5,151.7 674.6,160.0 677.5,165.0 C680.4,170.0 683.3,172.3 687.5,175.0 C691.7,177.7 697.1,179.6 702.5,181.2 C707.9,182.8 714.6,184.3 720.0,184.5 C725.4,184.7 730.0,183.9 735.0,182.5 C740.0,181.1 745.8,178.1 750.0,176.2 C754.2,174.3 756.7,173.5 760.0,171.2 C763.3,168.9 766.7,165.4 770.0,162.5 C773.3,159.6 775.8,155.6 780.0,153.7 C784.2,151.8 789.6,152.2 795.0,151.2 C800.4,150.2 807.1,150.0 812.5,147.5 C817.9,145.0 822.9,140.8 827.5,136.2 C832.1,131.6 836.7,126.5 840.0,120.0 C843.3,113.5 845.0,106.2 847.5,97.5 C850.0,88.8 854.0,76.7 855.0,67.5 C856.0,58.3 853.9,46.7 853.7,42.5"/>
<path d="M715.0,42.5 C716.2,44.2 720.5,48.3 722.5,52.5 C724.5,56.7 727.0,63.8 727.0,67.5 C727.0,71.2 724.5,72.7 722.5,75.0 C720.5,77.3 716.9,78.3 715.0,81.2 C713.1,84.1 712.2,86.5 711.2,92.5 C710.2,98.5 708.5,111.2 708.7,117.5 C708.9,123.8 711.0,125.8 712.5,130.0 C714.0,134.2 715.4,138.8 717.5,142.5 C719.6,146.2 722.1,152.1 725.0,152.5 C727.9,152.9 732.1,146.2 735.0,145.0 C737.9,143.8 739.6,145.6 742.5,145.0 C745.4,144.4 748.8,142.7 752.5,141.2 C756.2,139.7 760.8,137.6 765.0,136.2 C769.2,134.8 773.3,133.1 777.5,132.5 C781.7,131.9 786.2,132.7 790.0,132.5 C793.8,132.3 797.1,132.4 800.0,131.2 C802.9,129.9 804.6,127.1 807.5,125.0 C810.4,122.9 816.0,123.3 817.5,118.7 C819.0,114.1 817.0,106.0 816.2,97.5 C815.4,89.0 812.5,76.7 812.5,67.5 C812.5,58.3 815.6,46.7 816.2,42.5"/>
<path d="M697.5,101.2 C699.0,100.4 701.3,100.6 702.5,102.5 C703.7,104.4 704.7,109.0 704.5,112.5 C704.3,116.0 702.6,121.8 701.2,123.7 C699.8,125.6 697.7,125.0 696.2,123.7 C694.7,122.5 692.4,118.9 692.0,116.2 C691.6,113.5 692.8,110.0 693.7,107.5 C694.6,105.0 696.0,102.0 697.5,101.2Z"/>
<path d="M898.0,388.0 C897.3,386.7 895.0,381.8 893.7,380.0 C892.4,378.2 891.9,376.2 890.0,377.5 C888.1,378.8 885.0,382.1 882.5,387.5 C880.0,392.9 877.5,402.1 875.0,410.0 C872.5,417.9 869.6,429.2 867.5,435.0 C865.4,440.8 864.6,442.1 862.5,445.0 C860.4,447.9 858.8,450.8 855.0,452.5 C851.2,454.2 844.6,454.4 840.0,455.0 C835.4,455.6 830.8,455.8 827.5,456.2 C824.2,456.6 823.3,456.9 820.0,457.5 C816.7,458.1 811.7,458.3 807.5,460.0 C803.3,461.7 798.8,464.2 795.0,467.5 C791.2,470.8 787.9,475.8 785.0,480.0 C782.1,484.2 780.4,487.9 777.5,492.5 C774.6,497.1 771.2,502.9 767.5,507.5 C763.8,512.1 759.6,516.0 755.0,520.0 C750.4,524.0 745.0,528.7 740.0,531.2 C735.0,533.7 729.2,534.0 725.0,535.0 C720.8,536.0 718.8,536.2 715.0,537.5 C711.2,538.8 706.2,541.2 702.5,542.5 C698.8,543.8 695.4,543.3 692.5,545.0 C689.6,546.7 686.9,549.2 685.0,552.5 C683.1,555.8 682.2,559.6 681.2,565.0 C680.2,570.4 679.7,578.3 678.7,585.0 C677.7,591.7 676.5,599.2 675.0,605.0 C673.5,610.8 671.7,615.4 670.0,620.0 C668.3,624.6 666.5,628.8 665.0,632.5 C663.5,636.2 661.8,640.8 661.2,642.5"/>
<path d="M898.0,408.0 C897.3,406.9 895.0,401.7 893.7,401.2 C892.4,400.7 891.9,400.6 890.0,405.0 C888.1,409.4 885.0,419.6 882.5,427.5 C880.0,435.4 877.1,445.4 875.0,452.5 C872.9,459.6 871.2,463.8 870.0,470.0 C868.8,476.2 868.5,483.8 867.5,490.0 C866.5,496.2 865.6,503.3 863.7,507.5 C861.8,511.7 858.5,514.4 856.2,515.0 C853.9,515.6 852.3,512.9 850.0,511.2 C847.7,509.5 845.0,506.7 842.5,505.0 C840.0,503.3 836.7,501.6 835.0,501.2 C833.3,500.8 833.8,502.5 832.5,502.5 C831.2,502.5 829.6,501.7 827.5,501.2 C825.4,500.7 822.5,499.5 820.0,499.5 C817.5,499.5 814.6,500.7 812.5,501.2 C810.4,501.7 809.4,500.2 807.5,502.5 C805.6,504.8 803.3,512.5 801.2,515.0 C799.1,517.5 796.9,516.2 795.0,517.5 C793.1,518.8 792.5,520.4 790.0,522.5 C787.5,524.6 784.2,527.1 780.0,530.0 C775.8,532.9 770.0,536.7 765.0,540.0 C760.0,543.3 754.6,547.1 750.0,550.0 C745.4,552.9 741.5,554.6 737.5,557.5 C733.5,560.4 728.7,562.9 726.2,567.5 C723.7,572.1 724.4,578.8 722.5,585.0 C720.6,591.2 716.9,599.6 715.0,605.0 C713.1,610.4 711.6,612.9 711.2,617.5 C710.8,622.1 711.9,628.3 712.5,632.5 C713.1,636.7 714.6,640.8 715.0,642.5"/>
<path d="M898.0,438.0 C897.3,436.2 894.8,428.0 893.7,427.5 C892.6,427.0 892.0,430.8 891.2,435.0 C890.4,439.2 889.5,447.1 888.7,452.5 C887.9,457.9 886.6,456.7 886.2,467.5 C885.8,478.3 885.6,507.1 886.2,517.5 C886.8,527.9 888.3,527.1 890.0,530.0 C891.7,532.9 894.9,534.0 896.2,535.0 C897.5,536.0 897.7,535.8 898.0,536.0"/>
<path d="M853.7,642.5 C853.5,638.8 852.1,625.4 852.5,620.0 C852.9,614.6 854.1,615.8 856.2,610.0 C858.3,604.2 861.9,589.6 865.0,585.0 C868.1,580.4 871.9,582.3 875.0,582.5 C878.1,582.7 881.2,583.7 883.7,586.2 C886.2,588.7 888.3,593.5 890.0,597.5 C891.7,601.5 892.4,604.9 893.7,610.0 C895.0,615.1 897.3,625.0 898.0,628.0"/>
<path d="M816.2,642.5 C816.8,639.6 818.1,631.2 820.0,625.0 C821.9,618.8 825.2,611.7 827.5,605.0 C829.8,598.3 832.0,592.5 833.7,585.0 C835.4,577.5 836.2,567.5 837.5,560.0 C838.8,552.5 839.5,545.4 841.2,540.0 C842.9,534.6 845.0,530.8 847.5,527.5 C850.0,524.2 853.3,520.8 856.2,520.0 C859.1,519.2 861.9,520.0 865.0,522.5 C868.1,525.0 871.7,530.0 875.0,535.0 C878.3,540.0 882.3,546.7 885.0,552.5 C887.7,558.3 889.0,564.1 891.2,570.0 C893.4,575.9 896.9,585.0 898.0,588.0"/>
<path d="M768.7,566.2 C770.8,565.4 776.0,563.1 780.0,562.5 C784.0,561.9 789.2,561.7 792.5,562.5 C795.8,563.3 799.2,563.8 800.0,567.5 C800.8,571.2 798.5,578.3 797.5,585.0 C796.5,591.7 795.0,600.4 793.7,607.5 C792.5,614.6 791.5,623.1 790.0,627.5 C788.5,631.9 787.5,632.2 785.0,633.7 C782.5,635.2 777.5,637.2 775.0,636.2 C772.5,635.2 772.3,630.2 770.0,627.5 C767.7,624.8 762.9,622.5 761.2,620.0 C759.5,617.5 759.6,615.0 760.0,612.5 C760.4,610.0 762.9,609.6 763.7,605.0 C764.5,600.4 764.4,591.2 765.0,585.0 C765.6,578.8 766.9,570.6 767.5,567.5 C768.1,564.4 766.6,567.0 768.7,566.2Z"/>
<path d="M881.2,96.2 C882.7,91.6 887.7,73.5 890.0,68.7 C892.3,63.9 893.8,66.9 895.0,67.5 C896.2,68.1 897.1,71.7 897.5,72.5"/>
<path d="M893.7,95.0 L897.5,97.5"/>
<path d="M855.0,157.5 C856.5,154.6 861.0,146.1 863.7,140.0 C866.4,133.9 870.0,124.3 871.2,121.2"/>
<path d="M873.7,156.2 C874.8,152.7 878.2,141.7 880.0,135.0 C881.8,128.3 883.8,119.3 884.5,116.2"/>
<path d="M893.7,147.5 C893.3,149.6 891.6,156.1 891.2,160.0 C890.8,163.9 890.6,168.5 891.2,171.2 C891.8,173.9 894.4,175.4 895.0,176.2"/>
<path d="M767.5,201.2 C769.6,199.8 775.8,194.6 780.0,192.5 C784.2,190.4 788.5,189.3 792.5,188.7 C796.5,188.1 801.8,188.7 803.7,188.7"/>
<path d="M828.7,196.2 C830.2,196.0 834.6,194.4 837.5,195.0 C840.4,195.6 844.6,202.3 846.2,200.0 C847.8,197.7 846.9,184.3 847.0,181.2"/>
<path d="M871.2,180.0 L877.5,221.2"/>
<path d="M715.0,242.0 C717.1,240.6 723.8,236.1 727.5,233.7 C731.2,231.3 734.6,230.4 737.5,227.5 C740.4,224.6 743.8,218.1 745.0,216.2"/>
<path d="M760.0,238.7 C761.7,235.4 766.2,223.9 770.0,218.7 C773.8,213.5 780.4,209.4 782.5,207.5"/>
<path d="M808.7,207.5 C810.6,208.8 816.7,209.4 820.0,215.0 C823.3,220.6 827.2,236.8 828.7,241.2"/>
<path d="M772.5,280.0 C774.6,277.1 781.7,267.5 785.0,262.5 C788.3,257.5 790.4,252.3 792.5,250.0 C794.6,247.7 796.7,248.9 797.5,248.7"/>
<path d="M880.0,246.2 C880.8,246.4 882.5,242.3 885.0,247.5 C887.5,252.7 892.9,272.4 895.0,277.5 C897.1,282.6 897.1,277.9 897.5,278.0"/>
<path d="M683.7,297.5 C684.8,294.2 687.5,283.8 690.0,277.5 C692.5,271.2 697.2,262.9 698.7,260.0"/>
<path d="M645.0,351.2 C646.7,348.9 650.4,342.5 655.0,337.5 C659.6,332.5 669.6,323.9 672.5,321.2"/>
<path d="M691.2,350.0 C693.1,347.5 698.8,340.6 702.5,335.0 C706.2,329.4 711.8,319.3 713.7,316.2"/>
<path d="M721.2,291.2 C722.2,288.1 724.2,278.1 727.5,272.5 C730.8,266.9 738.9,260.0 741.2,257.5"/>
<path d="M740.0,332.5 C740.4,329.2 740.2,318.8 742.5,312.5 C744.8,306.2 751.8,297.9 753.7,295.0"/>
<path d="M641.2,376.2 L641.2,417.5"/>
<path d="M680.0,371.2 L681.2,413.7"/>
<path d="M655.0,438.7 C657.5,440.6 664.4,446.2 670.0,450.0 C675.6,453.8 685.6,459.3 688.7,461.2"/>
<path d="M733.7,357.5 C733.9,359.2 733.1,364.4 735.0,367.5 C736.9,370.6 741.0,374.1 745.0,376.2 C749.0,378.3 756.4,379.4 758.7,380.0"/>
<path d="M700.0,427.5 C704.2,427.6 718.8,430.0 725.0,428.0 C731.2,426.0 732.8,418.6 737.0,415.5 C741.2,412.4 746.2,410.6 750.0,409.5 C753.8,408.4 757.3,409.4 760.0,408.7 C762.7,407.9 765.2,405.6 766.2,405.0"/>
<path d="M712.5,470.0 C713.8,469.8 716.7,469.9 720.0,468.7 C723.3,467.4 729.2,464.8 732.5,462.5 C735.8,460.2 737.7,457.3 740.0,455.0 C742.3,452.7 745.2,449.8 746.2,448.7"/>
<path d="M815.0,266.2 C815.8,267.2 818.1,265.8 820.0,272.5 C821.9,279.2 825.2,300.6 826.2,306.2"/>
<path d="M838.7,263.7 L847.5,305.0"/>
<path d="M791.0,317.5 L795.0,318.0"/>
<path d="M826.2,330.0 C826.0,333.8 825.6,346.2 825.0,352.5 C824.4,358.8 824.6,364.0 822.5,367.5 C820.4,371.0 816.2,372.0 812.5,373.7 C808.8,375.4 804.6,376.7 800.0,377.5 C795.4,378.3 787.5,378.5 785.0,378.7"/>
<path d="M850.0,330.0 L847.5,371.2"/>
<path d="M864.5,322.5 L861.2,363.7"/>
<path d="M878.7,320.0 C879.5,319.2 881.8,314.2 883.7,315.0 C885.6,315.8 887.7,320.0 890.0,325.0 C892.3,330.0 896.2,341.7 897.5,345.0"/>
<path d="M791.2,400.0 C793.5,399.4 800.6,397.7 805.0,396.2 C809.4,394.7 813.5,392.6 817.5,391.2 C821.5,389.8 826.8,388.1 828.7,387.5"/>
<path d="M826.2,407.5 C829.1,407.5 838.9,410.8 843.7,407.5 C848.5,404.2 853.1,390.8 855.0,387.5"/>
<path d="M766.2,433.7 C768.9,432.4 778.1,427.9 782.5,426.2 C786.9,424.5 789.0,424.9 792.5,423.7 C796.0,422.4 801.8,419.5 803.7,418.7"/>
</g>
<text x="724.8" y="26.6" text-anchor="middle" font-family="'Liberation Sans', Arial, Helvetica, sans-serif" font-weight="bold" font-size="31.5" word-spacing="2" fill="#000">(b) LOP = 180<tspan font-size="24" dy="-12.6" dx="0">o</tspan></text>
<text x="550.0" y="684.8" text-anchor="middle" font-family="'Liberation Sans', Arial, Helvetica, sans-serif" font-size="29" fill="#262626">145<tspan font-size="23" dy="-11.5" dx="1.0">o</tspan><tspan dy="11.5" dx="4.0">E</tspan></text>
<text x="725.0" y="684.8" text-anchor="middle" font-family="'Liberation Sans', Arial, Helvetica, sans-serif" font-size="29" fill="#262626">150<tspan font-size="23" dy="-11.5" dx="1.0">o</tspan><tspan dy="11.5" dx="4.0">W</tspan></text>
<text x="894.7" y="684.8" text-anchor="middle" font-family="'Liberation Sans', Arial, Helvetica, sans-serif" font-size="29" fill="#262626">85<tspan font-size="23" dy="-11.5" dx="1.0">o</tspan><tspan dy="11.5" dx="4.0">W</tspan></text>
<clipPath id="c2"><rect x="1034.5" y="43.3" width="139.0" height="599.7"/></clipPath>
<clipPath id="a2"><rect x="1034.5" y="43.3" width="342.5" height="599.7"/></clipPath>
<g stroke="#dedede" stroke-width="1.3" fill="none">
<line x1="1034.5" y1="43.3" x2="1377" y2="43.3"/>
<line x1="1377" y1="43.3" x2="1377" y2="643"/>
<line x1="1206.2" y1="43.3" x2="1206.2" y2="643"/>
<line x1="1034.5" y1="143.2" x2="1377" y2="143.2"/>
<line x1="1034.5" y1="243.2" x2="1377" y2="243.2"/>
<line x1="1034.5" y1="343.1" x2="1377" y2="343.1"/>
<line x1="1034.5" y1="443.1" x2="1377" y2="443.1"/>
<line x1="1034.5" y1="543" x2="1377" y2="543"/>
</g>
<g clip-path="url(#c2)">
<rect x="1034.5" y="43.3" width="139.0" height="599.7" fill="#f6f6f6"/>
<path d="M1091.2,30.0 L1091.2,42.5 C1089.8,45.0 1086.0,52.5 1082.5,57.5 C1079.0,62.5 1074.2,68.5 1070.0,72.5 C1065.8,76.5 1061.7,78.9 1057.5,81.2 C1053.3,83.5 1048.8,85.4 1045.0,86.2 C1041.2,87.0 1036.7,86.2 1035.0,86.2 L1020.0,86.2 L1020.0,402.2 L1035.0,402.5 C1036.7,402.9 1040.4,403.3 1045.0,405.0 C1049.6,406.7 1056.7,409.8 1062.5,412.5 C1068.3,415.2 1075.4,418.3 1080.0,421.2 C1084.6,424.1 1087.1,425.6 1090.0,430.0 C1092.9,434.4 1095.8,442.1 1097.5,447.5 C1099.2,452.9 1097.5,457.5 1100.0,462.5 C1102.5,467.5 1107.5,473.8 1112.5,477.5 C1117.5,481.2 1124.6,483.3 1130.0,485.0 C1135.4,486.7 1140.4,487.3 1145.0,487.5 C1149.6,487.7 1152.7,486.6 1157.5,486.2 C1162.3,485.8 1171.0,485.2 1173.7,485.0 L1190.0,485.0 L1190.0,30.0Z" fill="#fce4f0" stroke="#fff" stroke-width="1.8" stroke-linejoin="round"/>
<path d="M1190.0,542.5 L1173.7,542.5 C1172.7,544.2 1170.2,548.8 1167.5,552.5 C1164.8,556.2 1161.7,560.8 1157.5,565.0 C1153.3,569.2 1147.9,573.8 1142.5,577.5 C1137.1,581.2 1129.6,584.2 1125.0,587.5 C1120.4,590.8 1118.3,592.9 1115.0,597.5 C1111.7,602.1 1107.9,609.2 1105.0,615.0 C1102.1,620.8 1099.6,627.9 1097.5,632.5 C1095.4,637.1 1093.3,640.8 1092.5,642.5 L1090.0,655.0 L1190.0,655.0Z" fill="#fce4f0" stroke="#fff" stroke-width="1.8" stroke-linejoin="round"/>
<path d="M1020.0,427.5 L1035.0,427.5 C1036.7,427.7 1041.2,427.4 1045.0,428.7 C1048.8,429.9 1053.8,433.1 1057.5,435.0 C1061.2,436.9 1064.6,437.1 1067.5,440.0 C1070.4,442.9 1072.9,447.9 1075.0,452.5 C1077.1,457.1 1077.9,462.1 1080.0,467.5 C1082.1,472.9 1084.2,478.8 1087.5,485.0 C1090.8,491.2 1094.6,500.0 1100.0,505.0 C1105.4,510.0 1115.8,512.5 1120.0,515.0 C1124.2,517.5 1125.8,517.9 1125.0,520.0 C1124.2,522.1 1119.2,525.4 1115.0,527.5 C1110.8,529.6 1104.6,530.4 1100.0,532.5 C1095.4,534.6 1091.7,536.7 1087.5,540.0 C1083.3,543.3 1080.0,549.2 1075.0,552.5 C1070.0,555.8 1062.5,557.9 1057.5,560.0 C1052.5,562.1 1048.8,564.2 1045.0,565.0 C1041.2,565.8 1036.7,565.0 1035.0,565.0 L1020.0,565.0Z" fill="#e9f5d6" stroke="#fff" stroke-width="1.8" stroke-linejoin="round"/>
<path d="M1020.0,442.5 L1035.0,442.5 C1037.5,442.7 1045.4,442.9 1050.0,443.7 C1054.6,444.5 1058.8,445.2 1062.5,447.5 C1066.2,449.8 1070.0,452.9 1072.5,457.5 C1075.0,462.1 1076.5,468.3 1077.5,475.0 C1078.5,481.7 1078.7,490.8 1078.7,497.5 C1078.7,504.2 1078.5,510.0 1077.5,515.0 C1076.5,520.0 1075.0,524.6 1072.5,527.5 C1070.0,530.4 1065.4,530.4 1062.5,532.5 C1059.6,534.6 1057.9,539.2 1055.0,540.0 C1052.1,540.8 1048.3,537.5 1045.0,537.5 C1041.7,537.5 1036.7,539.6 1035.0,540.0 L1020.0,540.0Z" fill="#c7e89f" stroke="#fff" stroke-width="1.8" stroke-linejoin="round"/>
<path d="M1020.0,465.0 L1035.0,465.0 C1037.1,464.6 1044.0,463.6 1047.5,462.5 C1051.0,461.4 1053.9,458.3 1056.2,458.7 C1058.5,459.1 1060.8,460.2 1061.2,465.0 C1061.6,469.8 1059.7,478.3 1058.7,487.5 C1057.7,496.7 1056.5,516.2 1055.0,520.0 C1053.5,523.8 1051.7,513.8 1050.0,510.0 C1048.3,506.2 1047.5,498.8 1045.0,497.5 C1042.5,496.2 1036.7,501.7 1035.0,502.5 L1020.0,502.5Z" fill="#9ccf64" stroke="#fff" stroke-width="1.8" stroke-linejoin="round"/>
<path d="M1020.0,602.5 L1035.0,602.5 C1035.8,603.8 1038.8,607.5 1040.0,610.0 C1041.2,612.5 1043.3,615.0 1042.5,617.5 C1041.7,620.0 1036.2,623.8 1035.0,625.0 L1020.0,625.0Z" fill="#e9f5d6" stroke="#fff" stroke-width="1.8" stroke-linejoin="round"/>
<path d="M1130.0,30.0 L1130.0,42.5 C1129.6,44.2 1129.2,48.3 1127.5,52.5 C1125.8,56.7 1123.3,62.1 1120.0,67.5 C1116.7,72.9 1111.7,78.8 1107.5,85.0 C1103.3,91.2 1099.2,99.6 1095.0,105.0 C1090.8,110.4 1087.5,112.9 1082.5,117.5 C1077.5,122.1 1069.6,128.9 1065.0,132.5 C1060.4,136.1 1057.8,136.4 1055.0,139.0 C1052.2,141.6 1050.5,146.1 1048.2,148.2 C1045.9,150.3 1043.7,151.8 1041.4,151.6 C1039.1,151.4 1035.7,147.8 1034.5,147.0 L1020.0,147.0 L1020.0,373.0 L1034.5,373.0 C1036.6,373.9 1043.5,376.3 1047.0,378.3 C1050.5,380.3 1052.1,383.6 1055.5,385.1 C1058.9,386.6 1063.2,387.5 1067.5,387.5 C1071.8,387.5 1076.0,386.3 1081.1,385.1 C1086.2,383.9 1093.3,381.1 1098.1,380.5 C1102.9,379.9 1105.5,380.0 1110.0,381.5 C1114.5,383.0 1120.6,386.8 1125.4,389.5 C1130.2,392.2 1134.5,395.5 1139.0,397.5 C1143.5,399.5 1146.8,400.4 1152.6,401.5 C1158.4,402.6 1170.2,403.6 1173.7,404.0 L1190.0,404.0 L1190.0,30.0Z" fill="#f5c4e1" stroke="#fff" stroke-width="1.8" stroke-linejoin="round"/>
<path d="M1190.0,587.5 L1173.7,587.5 C1171.4,588.8 1164.8,591.7 1160.0,595.0 C1155.2,598.3 1148.8,603.3 1145.0,607.5 C1141.2,611.7 1139.2,615.8 1137.5,620.0 C1135.8,624.2 1135.8,628.8 1135.0,632.5 C1134.2,636.2 1132.9,640.8 1132.5,642.5 L1131.0,655.0 L1190.0,655.0Z" fill="#f5c4e1" stroke="#fff" stroke-width="1.8" stroke-linejoin="round"/>
<path d="M1167.5,30.0 L1167.5,42.5 C1166.9,45.4 1165.4,53.8 1163.7,60.0 C1162.0,66.2 1159.8,73.8 1157.5,80.0 C1155.2,86.2 1152.5,92.1 1150.0,97.5 C1147.5,102.9 1145.5,107.9 1142.5,112.5 C1139.5,117.1 1135.8,121.8 1132.0,125.0 C1128.2,128.2 1124.8,128.5 1120.0,132.0 C1115.2,135.5 1108.4,142.2 1103.0,146.0 C1097.6,149.8 1092.8,151.7 1087.5,155.0 C1082.2,158.3 1076.2,161.7 1071.0,166.0 C1065.8,170.3 1059.7,176.3 1056.5,181.0 C1053.3,185.7 1053.2,188.3 1052.0,194.0 C1050.8,199.7 1050.0,208.2 1049.0,215.0 C1048.0,221.8 1046.9,228.3 1046.0,235.0 C1045.1,241.7 1044.2,249.5 1043.5,255.0 C1042.8,260.5 1041.5,263.7 1041.9,268.2 C1042.3,272.7 1044.5,277.2 1046.0,282.0 C1047.5,286.8 1049.1,291.2 1050.7,296.8 C1052.3,302.4 1053.6,309.8 1055.4,315.9 C1057.2,322.0 1059.7,327.2 1061.8,333.3 C1063.9,339.4 1066.1,348.4 1068.2,352.4 C1070.3,356.4 1071.8,356.8 1074.5,357.2 C1077.2,357.6 1080.8,356.1 1084.5,354.9 C1088.2,353.7 1092.7,350.6 1096.8,350.1 C1100.9,349.7 1104.9,350.9 1109.0,352.2 C1113.1,353.4 1117.0,355.6 1121.3,357.6 C1125.6,359.6 1130.4,362.1 1134.9,364.4 C1139.4,366.7 1144.0,369.0 1148.5,371.3 C1153.0,373.6 1158.1,376.5 1162.2,378.1 C1166.3,379.7 1171.2,380.4 1173.0,380.8 L1190.0,381.0 L1190.0,30.0Z" fill="#e796c4" stroke="#fff" stroke-width="1.8" stroke-linejoin="round"/>
<path d="M1020.0,215.0 L1034.5,215.0 C1035.0,217.5 1036.3,224.2 1037.2,230.0 C1038.1,235.8 1039.2,243.6 1040.0,250.0 C1040.8,256.4 1042.2,262.4 1041.9,268.2 C1041.6,274.0 1039.0,280.2 1038.0,285.0 C1037.0,289.8 1036.0,294.8 1035.6,296.8 L1020.0,300.0Z" fill="#e796c4" stroke="#fff" stroke-width="1.8" stroke-linejoin="round"/>
<path d="M1190.0,145.0 L1173.7,145.0 C1171.8,146.0 1166.9,148.7 1162.5,151.2 C1158.1,153.7 1152.9,156.4 1147.5,160.0 C1142.1,163.6 1136.3,169.2 1130.0,173.0 C1123.7,176.8 1116.3,179.3 1109.5,183.0 C1102.7,186.7 1095.0,190.6 1089.0,195.0 C1083.0,199.4 1077.4,204.3 1073.2,209.5 C1069.0,214.7 1066.6,219.8 1064.1,226.0 C1061.6,232.2 1059.5,240.2 1058.0,247.0 C1056.5,253.8 1055.0,262.0 1055.0,267.0 C1055.0,272.0 1056.0,272.7 1058.0,277.0 C1060.0,281.3 1063.5,287.8 1067.0,293.0 C1070.5,298.2 1074.3,303.5 1079.0,308.0 C1083.7,312.5 1089.5,316.3 1095.0,320.0 C1100.5,323.7 1106.7,327.3 1111.8,330.4 C1116.9,333.5 1121.3,336.1 1125.4,338.6 C1129.5,341.1 1132.5,343.8 1136.3,345.4 C1140.1,347.0 1144.2,347.4 1148.5,348.1 C1152.8,348.8 1158.1,349.3 1162.2,349.5 C1166.3,349.7 1171.2,349.5 1173.0,349.5 L1190.0,349.5Z" fill="#d658a2" stroke="#fff" stroke-width="1.8" stroke-linejoin="round"/>
<path d="M1076.0,266.4 C1076.5,260.4 1080.8,250.8 1084.5,244.3 C1088.2,237.8 1093.0,231.8 1098.1,227.2 C1103.2,222.6 1109.4,219.6 1115.1,217.0 C1120.8,214.4 1127.7,212.5 1132.2,211.9 C1136.8,211.3 1139.3,211.6 1142.4,213.6 C1145.5,215.6 1148.5,219.0 1150.9,223.8 C1153.3,228.6 1155.3,235.8 1156.9,242.6 C1158.5,249.4 1159.5,257.1 1160.3,264.7 C1161.1,272.3 1161.6,281.4 1162.0,288.5 C1162.4,295.6 1162.5,302.1 1162.5,307.0 C1162.5,311.9 1163.9,315.1 1162.2,318.1 C1160.5,321.1 1156.0,323.1 1152.6,324.9 C1149.2,326.7 1145.1,328.5 1141.7,329.0 C1138.3,329.5 1136.1,329.1 1132.2,327.7 C1128.3,326.3 1122.9,323.8 1118.6,320.9 C1114.3,317.9 1110.4,314.1 1106.3,310.0 C1102.2,305.9 1098.1,301.3 1094.0,296.3 C1089.9,291.3 1084.8,285.0 1081.8,280.0 C1078.8,275.0 1075.5,272.3 1076.0,266.4Z" fill="#bc1776" stroke="#fff" stroke-width="1.8" stroke-linejoin="round"/>
<path d="M1095.6,267.3 C1096.2,263.9 1101.4,257.6 1104.9,254.5 C1108.4,251.4 1112.8,249.6 1116.8,248.5 C1120.8,247.4 1125.1,246.7 1128.8,247.7 C1132.5,248.7 1136.6,251.4 1139.0,254.5 C1141.4,257.6 1142.7,262.1 1143.2,266.4 C1143.7,270.6 1142.2,276.8 1142.0,280.0 C1141.8,283.2 1142.9,283.1 1141.7,285.4 C1140.5,287.7 1136.9,292.1 1134.9,293.6 C1132.9,295.1 1132.5,295.2 1129.5,294.3 C1126.5,293.4 1121.1,290.6 1117.2,288.2 C1113.3,285.8 1108.9,282.2 1106.3,280.0 C1103.7,277.8 1103.3,277.0 1101.5,274.9 C1099.7,272.8 1095.0,270.7 1095.6,267.3Z" fill="#8e0152" stroke="#fff" stroke-width="1.8" stroke-linejoin="round"/>
</g>
<line x1="1034.5" y1="643" x2="1377" y2="643" stroke="#262626" stroke-width="1" opacity="0.75"/>
<line x1="1034.5" y1="43.3" x2="1034.5" y2="643" stroke="#262626" stroke-width="1" opacity="0.6"/>
<line x1="1173.5" y1="643" x2="1377" y2="643" stroke="#000" stroke-width="2"/>
<line x1="1206.2" y1="636" x2="1206.2" y2="643" stroke="#262626" stroke-width="1.6"/>
<line x1="1377" y1="636" x2="1377" y2="643" stroke="#262626" stroke-width="1.6"/>
<line x1="1034.5" y1="43.3" x2="1040.5" y2="43.3" stroke="#262626" stroke-width="1.2"/>
<g clip-path="url(#a2)" fill="none" stroke="#000" stroke-width="2" stroke-linejoin="round" stroke-linecap="butt">
<path d="M1102.5,460.0 C1104.2,458.3 1109.2,454.2 1112.5,450.0 C1115.8,445.8 1118.8,440.0 1122.5,435.0 C1126.2,430.0 1129.6,425.0 1135.0,420.0 C1140.4,415.0 1148.3,409.6 1155.0,405.0 C1161.7,400.4 1169.2,396.7 1175.0,392.5 C1180.8,388.3 1184.6,383.3 1190.0,380.0 C1195.4,376.7 1201.2,374.4 1207.5,372.5 C1213.8,370.6 1221.2,368.9 1227.5,368.7 C1233.8,368.5 1238.8,370.1 1245.0,371.2 C1251.2,372.2 1259.2,373.5 1265.0,375.0 C1270.8,376.5 1274.6,377.5 1280.0,380.0 C1285.4,382.5 1293.5,389.0 1297.5,390.0 C1301.5,391.0 1302.3,390.0 1304.0,386.0 C1305.7,382.0 1307.2,373.2 1307.5,366.0 C1307.8,358.8 1306.5,351.8 1306.0,342.5 C1305.5,333.2 1304.8,320.8 1304.5,310.0 C1304.2,299.2 1304.4,285.0 1304.5,277.5 C1304.6,270.0 1304.0,268.4 1305.0,265.0 C1306.0,261.6 1307.9,259.2 1310.5,257.0 C1313.1,254.8 1317.1,254.5 1320.4,251.9 C1323.8,249.3 1327.3,246.2 1330.6,241.7 C1333.9,237.2 1337.3,230.7 1340.0,225.0 C1342.7,219.3 1344.6,211.8 1347.0,207.5 C1349.4,203.2 1351.8,202.4 1354.5,199.0 C1357.2,195.6 1360.2,190.0 1363.0,187.2 C1365.8,184.4 1369.2,182.0 1371.5,182.1 C1373.8,182.2 1376.1,186.6 1377.0,187.5"/>
<path d="M1377.0,214.5 C1376.1,213.4 1373.5,208.3 1371.5,207.7 C1369.5,207.1 1367.5,206.6 1364.7,211.1 C1361.9,215.6 1358.5,226.4 1354.5,234.9 C1350.5,243.4 1345.5,251.9 1340.9,262.1 C1336.4,272.3 1330.1,287.1 1327.2,296.2 C1324.3,305.3 1323.8,308.7 1323.8,316.6 C1323.8,324.6 1325.5,334.8 1327.2,343.9 C1328.9,353.0 1331.2,362.0 1334.0,371.1 C1336.8,380.2 1340.3,390.4 1344.3,398.3 C1348.3,406.2 1353.9,413.7 1357.9,418.8 C1361.9,423.9 1365.3,426.1 1368.1,429.0 C1370.9,431.9 1373.4,433.5 1374.9,436.0 C1376.4,438.5 1376.7,442.7 1377.0,444.0"/>
<path d="M1377.0,252.0 C1376.1,250.0 1373.3,241.4 1371.5,240.0 C1369.7,238.6 1368.7,238.6 1366.4,243.4 C1364.1,248.2 1361.0,260.2 1357.9,269.0 C1354.8,277.8 1350.2,288.3 1347.7,296.2 C1345.2,304.1 1343.2,307.5 1342.6,316.6 C1342.0,325.7 1342.9,339.9 1344.3,350.7 C1345.7,361.5 1348.3,372.2 1351.1,381.3 C1353.9,390.4 1357.9,398.9 1361.3,405.1 C1364.7,411.4 1368.9,416.0 1371.5,418.8 C1374.1,421.6 1376.1,421.6 1377.0,422.2"/>
<path d="M1377.0,291.0 C1376.1,288.8 1373.3,279.2 1371.5,277.5 C1369.7,275.8 1367.8,276.6 1366.4,280.9 C1365.0,285.1 1363.8,295.9 1363.0,303.0 C1362.2,310.1 1361.3,314.3 1361.3,323.4 C1361.3,332.5 1361.9,346.1 1363.0,357.5 C1364.1,368.9 1365.8,382.4 1368.1,391.5 C1370.4,400.6 1375.5,408.6 1377.0,412.0"/>
<path d="M1376.0,323.4 C1375.4,321.1 1373.4,311.5 1372.2,309.8 C1371.0,308.1 1369.8,308.6 1369.1,313.2 C1368.4,317.8 1368.0,327.5 1368.1,337.1 C1368.2,346.8 1368.9,363.2 1369.8,371.1 C1370.7,379.0 1372.2,381.9 1373.2,384.7 C1374.2,387.5 1375.5,387.5 1376.0,388.1"/>
<path d="M1135.0,467.5 C1135.4,461.2 1138.8,459.2 1142.5,455.0 C1146.2,450.8 1152.1,446.2 1157.5,442.5 C1162.9,438.8 1169.6,435.4 1175.0,432.5 C1180.4,429.6 1185.8,428.3 1190.0,425.0 C1194.2,421.7 1196.2,415.8 1200.0,412.5 C1203.8,409.2 1207.1,407.3 1212.5,405.0 C1217.9,402.7 1225.8,399.3 1232.5,398.7 C1239.2,398.1 1246.2,400.6 1252.5,401.2 C1258.8,401.8 1264.6,401.4 1270.0,402.5 C1275.4,403.6 1281.2,405.0 1285.0,407.5 C1288.8,410.0 1290.8,412.9 1292.5,417.5 C1294.2,422.1 1294.2,429.6 1295.0,435.0 C1295.8,440.4 1296.2,444.6 1297.0,450.0 C1297.8,455.4 1300.3,461.7 1300.0,467.5 C1299.7,473.3 1297.1,478.3 1295.0,485.0 C1292.9,491.7 1290.0,499.6 1287.5,507.5 C1285.0,515.4 1282.1,523.8 1280.0,532.5 C1277.9,541.2 1277.5,554.2 1275.0,560.0 C1272.5,565.8 1268.8,563.3 1265.0,567.5 C1261.2,571.7 1257.1,579.2 1252.5,585.0 C1247.9,590.8 1241.7,597.9 1237.5,602.5 C1233.3,607.1 1230.0,609.4 1227.5,612.5 C1225.0,615.6 1225.8,619.8 1222.5,621.2 C1219.2,622.7 1212.5,622.7 1207.5,621.2 C1202.5,619.8 1197.1,614.8 1192.5,612.5 C1187.9,610.2 1183.8,609.4 1180.0,607.5 C1176.2,605.6 1172.9,602.7 1170.0,601.2 C1167.1,599.7 1165.0,600.9 1162.5,598.7 C1160.0,596.5 1157.5,592.0 1155.0,588.0 C1152.5,584.0 1150.4,578.4 1147.5,575.0 C1144.6,571.6 1138.3,572.9 1137.5,567.5 C1136.7,562.1 1141.5,550.8 1142.5,542.5 C1143.5,534.2 1144.1,525.8 1143.7,517.5 C1143.3,509.2 1141.5,500.8 1140.0,492.5 C1138.5,484.2 1134.6,473.8 1135.0,467.5Z"/>
<path d="M1197.5,467.5 C1199.8,461.7 1204.6,463.8 1207.5,462.5 C1210.4,461.2 1212.1,462.5 1215.0,460.0 C1217.9,457.5 1221.2,450.8 1225.0,447.5 C1228.8,444.2 1233.3,441.1 1237.5,440.0 C1241.7,438.9 1246.2,441.2 1250.0,441.2 C1253.8,441.2 1257.1,439.4 1260.0,440.0 C1262.9,440.6 1265.0,442.1 1267.5,445.0 C1270.0,447.9 1273.1,453.8 1275.0,457.5 C1276.9,461.2 1278.7,462.9 1278.7,467.5 C1278.7,472.1 1276.5,478.8 1275.0,485.0 C1273.5,491.2 1271.7,498.8 1270.0,505.0 C1268.3,511.2 1266.7,518.3 1265.0,522.5 C1263.3,526.7 1262.3,528.1 1260.0,530.0 C1257.7,531.9 1253.3,532.0 1251.2,533.7 C1249.1,535.4 1249.0,536.9 1247.5,540.0 C1246.0,543.1 1244.0,549.8 1242.5,552.5 C1241.0,555.2 1240.4,556.2 1238.7,556.2 C1237.0,556.2 1234.8,552.5 1232.5,552.5 C1230.2,552.5 1227.5,556.6 1225.0,556.2 C1222.5,555.8 1219.8,551.0 1217.5,550.0 C1215.2,549.0 1213.3,548.1 1211.2,550.0 C1209.1,551.9 1206.5,560.0 1205.0,561.2 C1203.5,562.5 1203.8,561.0 1202.5,557.5 C1201.2,554.0 1199.2,545.8 1197.5,540.0 C1195.8,534.2 1194.0,525.6 1192.5,522.5 C1191.0,519.4 1190.0,520.6 1188.7,521.2 C1187.5,521.8 1186.2,526.8 1185.0,526.2 C1183.8,525.6 1181.4,521.0 1181.2,517.5 C1181.0,514.0 1182.7,506.7 1183.7,505.0 C1184.8,503.3 1186.2,506.1 1187.5,507.5 C1188.8,508.9 1190.2,515.4 1191.2,513.7 C1192.2,512.0 1192.7,505.2 1193.7,497.5 C1194.8,489.8 1195.2,473.3 1197.5,467.5Z"/>
<path d="M1102.5,578.7 C1104.2,581.8 1108.8,591.0 1112.5,597.5 C1116.2,604.0 1120.8,612.1 1125.0,617.5 C1129.2,622.9 1133.3,626.2 1137.5,630.0 C1141.7,633.8 1146.7,637.9 1150.0,640.0 C1153.3,642.1 1154.6,642.1 1157.5,642.5 C1160.4,642.9 1165.8,642.5 1167.5,642.5"/>
<path d="M1237.5,642.5 C1239.2,640.4 1244.2,633.8 1247.5,630.0 C1250.8,626.2 1253.8,623.3 1257.5,620.0 C1261.2,616.7 1266.2,614.2 1270.0,610.0 C1273.8,605.8 1277.5,600.8 1280.0,595.0 C1282.5,589.2 1283.3,582.5 1285.0,575.0 C1286.7,567.5 1287.9,559.6 1290.0,550.0 C1292.1,540.4 1295.0,527.1 1297.5,517.5 C1300.0,507.9 1302.9,497.9 1305.0,492.5 C1307.1,487.1 1307.9,487.5 1310.0,485.0 C1312.1,482.5 1315.0,480.8 1317.5,477.5 C1320.0,474.2 1322.5,470.4 1325.0,465.0 C1327.5,459.6 1330.0,449.2 1332.5,445.0 C1335.0,440.8 1337.1,440.0 1340.0,440.0 C1342.9,440.0 1346.7,442.7 1350.0,445.0 C1353.3,447.3 1357.1,452.4 1360.0,453.7 C1362.9,454.9 1364.7,451.7 1367.5,452.5 C1370.3,453.3 1375.4,457.7 1377.0,458.7"/>
<path d="M1167.5,42.5 C1169.6,43.5 1176.2,47.4 1180.0,48.7 C1183.8,50.0 1187.1,49.9 1190.0,50.5 C1192.9,51.1 1194.6,51.7 1197.5,52.5 C1200.4,53.3 1203.3,55.5 1207.5,55.5 C1211.7,55.5 1217.9,54.5 1222.5,52.5 C1227.1,50.5 1232.9,45.2 1235.0,43.7"/>
<path d="M1142.5,111.2 C1144.6,111.0 1151.2,110.6 1155.0,110.0 C1158.8,109.4 1160.4,107.5 1165.0,107.5 C1169.6,107.5 1179.6,109.6 1182.5,110.0"/>
<path d="M1206.2,102.5 C1208.1,102.0 1213.1,100.3 1217.5,99.5 C1221.9,98.7 1227.7,98.6 1232.5,97.5 C1237.3,96.4 1243.9,93.8 1246.2,93.0"/>
<path d="M1111.2,165.0 C1112.0,161.2 1114.1,148.8 1116.2,142.5 C1118.3,136.2 1122.5,130.0 1123.7,127.5"/>
<path d="M1142.5,161.2 C1143.3,159.3 1145.0,153.5 1147.5,150.0 C1150.0,146.5 1153.5,142.3 1157.5,140.0 C1161.5,137.7 1168.9,136.8 1171.2,136.2"/>
<path d="M1196.2,130.0 C1198.1,128.9 1203.5,125.4 1207.5,123.7 C1211.5,122.0 1215.6,120.6 1220.0,120.0 C1224.4,119.4 1231.4,120.0 1233.7,120.0"/>
<path d="M1191.2,153.7 C1193.5,152.2 1200.6,147.1 1205.0,145.0 C1209.4,142.9 1213.5,142.0 1217.5,141.2 C1221.5,140.4 1226.8,140.2 1228.7,140.0"/>
<path d="M1211.2,164.5 C1213.1,163.9 1218.5,161.8 1222.5,161.2 C1226.5,160.6 1231.7,160.6 1235.0,161.2 C1238.3,161.8 1240.8,163.5 1242.5,165.0 C1244.2,166.5 1244.6,169.2 1245.0,170.0"/>
<path d="M1110.0,190.0 C1110.2,193.3 1110.8,203.1 1111.2,210.0 C1111.6,216.9 1112.3,227.7 1112.5,231.2"/>
<path d="M1135.0,187.5 C1134.8,190.4 1133.7,198.3 1133.7,205.0 C1133.7,211.7 1134.8,223.8 1135.0,227.5"/>
<path d="M1156.2,202.5 C1156.8,199.2 1157.9,188.8 1160.0,182.5 C1162.1,176.2 1167.2,167.9 1168.7,165.0"/>
<path d="M1178.7,218.7 C1179.8,215.6 1181.9,205.8 1185.0,200.0 C1188.1,194.2 1195.4,186.4 1197.5,183.7"/>
<path d="M1198.7,235.0 C1200.2,235.0 1203.5,235.4 1207.5,235.0 C1211.5,234.6 1218.8,235.8 1222.5,232.5 C1226.2,229.2 1227.1,221.1 1230.0,215.0 C1232.9,208.9 1238.3,199.3 1240.0,196.2"/>
<path d="M1158.7,227.5 C1160.2,230.0 1164.8,238.4 1167.5,242.5 C1170.2,246.6 1172.5,248.9 1175.0,252.0 C1177.5,255.1 1181.2,259.7 1182.5,261.2"/>
<path d="M1262.5,73.7 C1263.8,72.2 1267.5,67.3 1270.0,65.0 C1272.5,62.7 1275.0,60.4 1277.5,60.0 C1280.0,59.6 1282.1,61.0 1285.0,62.5 C1287.9,64.0 1293.3,67.7 1295.0,68.7"/>
<path d="M1310.0,55.0 L1311.2,42.5"/>
<path d="M1340.0,42.5 C1340.2,45.4 1340.7,53.3 1341.2,60.0 C1341.7,66.7 1342.7,78.8 1343.0,82.5"/>
<path d="M1351.2,42.5 L1353.0,46.2"/>
<path d="M1365.0,42.5 C1365.2,45.4 1365.4,55.0 1366.2,60.0 C1367.0,65.0 1368.3,69.0 1370.0,72.5 C1371.7,76.0 1375.2,79.8 1376.2,81.2"/>
<path d="M1373.7,42.5 L1376.2,48.7"/>
<path d="M1256.2,108.7 C1257.7,106.6 1261.9,99.5 1265.0,96.2 C1268.1,92.9 1271.2,89.5 1275.0,88.7 C1278.8,87.9 1285.4,90.8 1287.5,91.2"/>
<path d="M1356.2,72.5 C1356.8,75.0 1358.5,84.2 1360.0,87.5 C1361.5,90.8 1363.5,91.0 1365.0,92.5 C1366.5,94.0 1366.8,94.5 1368.7,96.2 C1370.6,98.0 1375.0,101.9 1376.2,103.0"/>
<path d="M1306.2,108.7 C1307.7,108.5 1312.9,106.9 1315.0,107.5 C1317.1,108.1 1317.2,110.8 1318.7,112.5 C1320.2,114.2 1323.7,115.4 1323.7,117.5 C1323.7,119.6 1320.4,122.5 1318.7,125.0 C1317.0,127.5 1314.5,131.2 1313.7,132.5"/>
<path d="M1347.5,108.7 C1348.1,110.2 1349.1,114.6 1351.2,117.5 C1353.3,120.4 1357.7,125.4 1360.0,126.2 C1362.3,127.0 1362.5,122.9 1365.0,122.5 C1367.5,122.1 1373.3,123.5 1375.0,123.7"/>
<path d="M1252.5,147.5 C1253.8,147.7 1258.1,149.9 1260.0,148.7 C1261.9,147.4 1262.5,145.2 1263.7,140.0 C1265.0,134.8 1266.9,121.2 1267.5,117.5"/>
<path d="M1288.7,122.5 L1283.7,162.5"/>
<path d="M1338.7,141.2 C1340.6,141.4 1346.5,141.7 1350.0,142.5 C1353.5,143.3 1357.5,146.2 1360.0,146.2 C1362.5,146.2 1362.5,143.1 1365.0,142.5 C1367.5,141.9 1373.3,142.5 1375.0,142.5"/>
<path d="M1257.5,217.5 C1257.9,214.6 1258.5,206.5 1260.0,200.0 C1261.5,193.5 1265.2,182.2 1266.2,178.7"/>
<path d="M1285.0,191.2 C1286.7,189.8 1292.3,186.0 1295.0,182.5 C1297.7,179.0 1299.8,174.2 1301.2,170.0 C1302.7,165.8 1303.3,159.6 1303.7,157.5"/>
<path d="M1303.7,196.2 C1305.2,195.2 1309.8,193.1 1312.5,190.0 C1315.2,186.9 1317.7,181.9 1320.0,177.5 C1322.3,173.1 1325.2,166.0 1326.2,163.7"/>
<path d="M1265.0,251.2 C1265.4,248.1 1266.7,238.9 1267.5,232.5 C1268.3,226.1 1269.6,215.8 1270.0,212.5"/>
<path d="M1278.7,253.7 C1279.1,250.2 1280.2,238.9 1281.2,232.5 C1282.2,226.1 1284.4,217.9 1285.0,215.0"/>
<path d="M1246.2,255.0 L1251.2,243.7"/>
<path d="M1203.7,275.0 C1205.6,275.2 1211.5,275.9 1215.0,276.2 C1218.5,276.5 1221.0,277.6 1225.0,277.0 C1229.0,276.4 1235.4,275.3 1238.7,272.5 C1242.0,269.7 1242.9,265.0 1245.0,260.0 C1247.1,255.0 1250.2,245.4 1251.2,242.5"/>
<path d="M1190.0,298.7 C1192.5,299.9 1200.4,304.5 1205.0,306.2 C1209.6,307.9 1213.8,308.1 1217.5,308.7 C1221.2,309.3 1225.8,309.8 1227.5,310.0"/>
<path d="M1148.5,308.6 C1151.0,309.7 1159.1,313.5 1163.5,315.4 C1167.9,317.3 1171.2,318.2 1175.0,320.0 C1178.8,321.8 1184.3,325.2 1186.2,326.2"/>
<path d="M1262.5,268.7 C1261.9,272.2 1260.6,283.8 1258.7,290.0 C1256.8,296.2 1252.5,303.5 1251.2,306.2"/>
<path d="M1276.2,280.0 L1275.0,320.0"/>
<path d="M1212.5,330.0 C1214.6,330.3 1220.6,331.2 1225.0,332.0 C1229.4,332.8 1234.1,334.9 1238.7,335.0 C1243.3,335.1 1250.2,332.9 1252.5,332.5"/>
<path d="M1117.7,257.9 C1118.4,260.8 1120.3,268.8 1122.0,275.0 C1123.7,281.2 1126.9,292.0 1127.9,295.4"/>
<path d="M1145.8,252.8 C1146.9,255.4 1148.9,263.3 1152.6,268.1 C1156.3,272.9 1165.4,279.4 1167.9,281.7"/>
<path d="M1330.0,515.0 C1331.2,512.9 1335.0,505.8 1337.5,502.5 C1340.0,499.2 1342.5,496.7 1345.0,495.0 C1347.5,493.3 1350.0,492.5 1352.5,492.5 C1355.0,492.5 1358.8,494.6 1360.0,495.0"/>
<path d="M1352.5,515.0 C1353.8,514.6 1357.9,514.6 1360.0,512.5 C1362.1,510.4 1363.1,505.0 1365.0,502.5 C1366.9,500.0 1369.3,497.5 1371.2,497.5 C1373.1,497.5 1375.4,501.7 1376.2,502.5"/>
<path d="M1367.5,512.5 C1368.1,512.5 1369.8,511.2 1371.2,512.5 C1372.7,513.8 1375.4,518.8 1376.2,520.0"/>
<path d="M1310.0,575.0 C1310.4,573.3 1310.8,568.3 1312.5,565.0 C1314.2,561.7 1318.1,559.6 1320.0,555.0 C1321.9,550.4 1323.1,540.4 1323.7,537.5"/>
<path d="M1335.0,575.0 C1335.2,571.7 1335.6,561.7 1336.2,555.0 C1336.8,548.3 1338.3,538.3 1338.7,535.0"/>
<path d="M1345.0,575.0 C1345.4,571.7 1345.8,560.0 1347.5,555.0 C1349.2,550.0 1352.9,547.5 1355.0,545.0 C1357.1,542.5 1359.2,540.8 1360.0,540.0"/>
<path d="M1361.2,575.0 C1361.6,571.7 1362.5,561.7 1363.7,555.0 C1365.0,548.3 1367.9,538.3 1368.7,535.0"/>
<path d="M1368.7,575.0 C1368.9,572.9 1369.2,565.2 1370.0,562.5 C1370.8,559.8 1372.7,558.7 1373.7,558.7 C1374.7,558.7 1375.8,561.9 1376.2,562.5"/>
<path d="M1312.5,601.2 L1311.2,642.5"/>
<path d="M1336.2,601.2 L1340.0,642.5"/>
<path d="M1350.0,601.2 L1353.7,642.5"/>
<path d="M1361.2,601.2 L1363.7,642.5"/>
<path d="M1368.7,601.2 L1372.5,642.5"/>
</g>
<text x="1202.2" y="26.6" text-anchor="middle" font-family="'Liberation Sans', Arial, Helvetica, sans-serif" font-weight="bold" font-size="31.5" word-spacing="2" fill="#000">(c) LOP = 270<tspan font-size="24" dy="-12.6" dx="0">o</tspan></text>
<text x="1033.0" y="684.8" text-anchor="middle" font-family="'Liberation Sans', Arial, Helvetica, sans-serif" font-size="29" fill="#262626">145<tspan font-size="23" dy="-11.5" dx="1.0">o</tspan><tspan dy="11.5" dx="4.0">E</tspan></text>
<text x="1203.7" y="684.8" text-anchor="middle" font-family="'Liberation Sans', Arial, Helvetica, sans-serif" font-size="29" fill="#262626">150<tspan font-size="23" dy="-11.5" dx="1.0">o</tspan><tspan dy="11.5" dx="4.0">W</tspan></text>
<text x="1374.2" y="684.8" text-anchor="middle" font-family="'Liberation Sans', Arial, Helvetica, sans-serif" font-size="29" fill="#262626">85<tspan font-size="23" dy="-11.5" dx="1.0">o</tspan><tspan dy="11.5" dx="4.0">W</tspan></text>
<clipPath id="c3"><rect x="1514" y="43.3" width="140.3" height="599.7"/></clipPath>
<clipPath id="a3"><rect x="1514" y="43.3" width="346.7" height="599.7"/></clipPath>
<g stroke="#dedede" stroke-width="1.3" fill="none">
<line x1="1514" y1="43.3" x2="1860.7" y2="43.3"/>
<line x1="1860.7" y1="43.3" x2="1860.7" y2="643"/>
<line x1="1687.5" y1="43.3" x2="1687.5" y2="643"/>
<line x1="1514" y1="143.2" x2="1860.7" y2="143.2"/>
<line x1="1514" y1="243.2" x2="1860.7" y2="243.2"/>
<line x1="1514" y1="343.1" x2="1860.7" y2="343.1"/>
<line x1="1514" y1="443.1" x2="1860.7" y2="443.1"/>
<line x1="1514" y1="543" x2="1860.7" y2="543"/>
</g>
<g clip-path="url(#c3)">
<rect x="1514" y="43.3" width="140.3" height="599.7" fill="#f6f6f6"/>
<path d="M1500.0,30.0 L1670.0,30.0 L1670.0,330.0 L1654.5,330.0 C1652.9,328.8 1648.2,324.6 1645.0,322.5 C1641.8,320.4 1639.2,319.2 1635.0,317.5 C1630.8,315.8 1625.0,315.0 1620.0,312.5 C1615.0,310.0 1610.0,305.8 1605.0,302.5 C1600.0,299.2 1593.8,296.2 1590.0,292.5 C1586.2,288.8 1585.0,282.9 1582.5,280.0 C1580.0,277.1 1578.3,274.6 1575.0,275.0 C1571.7,275.4 1567.1,280.4 1562.5,282.5 C1557.9,284.6 1552.9,286.1 1547.5,287.5 C1542.1,288.9 1535.4,290.2 1530.0,291.2 C1524.6,292.2 1517.5,293.3 1515.0,293.7 L1500.0,293.7Z" fill="#fce4f0" stroke="#fff" stroke-width="1.8" stroke-linejoin="round"/>
<path d="M1500.0,30.0 L1670.0,30.0 L1670.0,305.0 L1654.5,301.2 C1651.7,298.5 1642.0,289.8 1637.5,285.0 C1633.0,280.2 1630.4,277.2 1627.5,272.5 C1624.6,267.8 1622.1,261.6 1620.0,257.0 C1617.9,252.4 1616.7,249.2 1615.0,245.0 C1613.3,240.8 1612.5,236.2 1610.0,232.0 C1607.5,227.8 1605.0,222.8 1600.0,220.0 C1595.0,217.2 1585.0,215.4 1580.0,215.0 C1575.0,214.6 1574.2,214.3 1570.0,217.5 C1565.8,220.7 1558.3,229.8 1555.0,234.0 C1551.7,238.2 1552.5,240.7 1550.0,242.5 C1547.5,244.3 1542.8,246.1 1540.0,245.0 C1537.2,243.9 1535.1,238.1 1533.0,236.0 C1530.9,233.9 1530.5,232.7 1527.5,232.5 C1524.5,232.3 1517.1,234.6 1515.0,235.0 L1500.0,235.0Z" fill="#f5c4e1" stroke="#fff" stroke-width="1.8" stroke-linejoin="round"/>
<path d="M1500.0,95.0 L1514.5,95.0 C1515.0,97.5 1516.6,101.2 1517.5,110.0 C1518.4,118.8 1519.6,137.1 1520.0,147.5 C1520.4,157.9 1520.6,161.7 1520.0,172.5 C1519.4,183.3 1516.8,205.8 1516.2,212.5 L1500.0,212.5Z" fill="#e796c4" stroke="#fff" stroke-width="1.8" stroke-linejoin="round"/>
<path d="M1535.0,107.5 C1536.2,107.1 1537.9,119.0 1540.0,120.0 C1542.1,121.0 1545.0,113.9 1547.5,113.7 C1550.0,113.5 1554.8,116.8 1555.0,118.7 C1555.2,120.6 1550.8,124.6 1548.7,125.0 C1546.6,125.4 1544.8,119.3 1542.5,121.2 C1540.2,123.1 1536.7,136.0 1535.0,136.2 C1533.3,136.4 1532.5,127.3 1532.5,122.5 C1532.5,117.7 1533.8,107.9 1535.0,107.5Z" fill="#e796c4" stroke="#fff" stroke-width="1.8" stroke-linejoin="round"/>
<path d="M1670.0,157.5 L1670.0,190.0 L1654.5,190.0 C1653.3,190.8 1649.9,195.8 1647.5,195.0 C1645.1,194.2 1643.3,187.9 1640.0,185.0 C1636.7,182.1 1632.1,180.4 1627.5,177.5 C1622.9,174.6 1612.5,170.2 1612.5,167.5 C1612.5,164.8 1622.1,162.9 1627.5,161.2 C1632.9,159.5 1640.5,158.1 1645.0,157.5 C1649.5,156.9 1652.9,157.5 1654.5,157.5Z" fill="#e796c4" stroke="#fff" stroke-width="1.8" stroke-linejoin="round"/>
<path d="M1612.5,47.5 C1612.3,51.0 1614.4,68.7 1615.0,68.7 C1615.6,68.7 1616.6,51.0 1616.2,47.5 C1615.8,44.0 1612.7,44.0 1612.5,47.5Z" fill="#fce4f0" stroke="#fff" stroke-width="1.8" stroke-linejoin="round"/>
<path d="M1500.0,346.2 L1515.0,346.2 C1517.1,345.6 1522.9,345.2 1527.5,342.5 C1532.1,339.8 1537.9,331.2 1542.5,330.0 C1547.1,328.8 1550.8,332.1 1555.0,335.0 C1559.2,337.9 1562.9,343.6 1567.5,347.5 C1572.1,351.4 1577.9,357.9 1582.5,358.7 C1587.1,359.5 1590.4,354.2 1595.0,352.5 C1599.6,350.8 1605.0,349.4 1610.0,348.7 C1615.0,347.9 1620.5,347.9 1625.0,348.0 C1629.5,348.1 1633.5,348.3 1637.0,349.5 C1640.5,350.7 1644.0,351.6 1646.0,355.0 C1648.0,358.4 1648.4,362.5 1649.0,370.0 C1649.6,377.5 1649.5,390.0 1649.5,400.0 C1649.5,410.0 1649.2,423.3 1649.0,430.0 C1648.8,436.7 1649.2,436.7 1648.5,440.0 C1647.8,443.3 1646.1,446.6 1645.0,450.0 C1643.9,453.4 1643.8,456.9 1641.7,460.6 C1639.6,464.3 1636.0,468.2 1632.6,472.0 C1629.2,475.8 1625.4,479.5 1621.3,483.3 C1617.2,487.1 1612.2,491.5 1607.7,494.7 C1603.2,497.9 1599.1,500.3 1594.0,502.6 C1588.9,504.9 1582.7,506.8 1577.0,508.3 C1571.3,509.8 1565.8,511.1 1560.0,511.7 C1554.2,512.3 1550.0,511.9 1542.5,512.0 C1535.0,512.0 1519.6,512.0 1515.0,512.0 L1500.0,512.0Z" fill="#e9f5d6" stroke="#fff" stroke-width="1.8" stroke-linejoin="round"/>
<path d="M1500.0,377.5 L1515.0,377.5 C1516.7,377.3 1521.7,376.6 1525.0,376.2 C1528.3,375.8 1531.7,374.4 1535.0,375.0 C1538.3,375.6 1540.8,378.3 1545.0,380.0 C1549.2,381.7 1555.4,382.1 1560.0,385.0 C1564.6,387.9 1567.9,394.2 1572.5,397.5 C1577.1,400.8 1582.5,403.3 1587.5,405.0 C1592.5,406.7 1598.3,405.0 1602.5,407.5 C1606.7,410.0 1611.2,415.4 1612.5,420.0 C1613.8,424.6 1611.2,430.0 1610.0,435.0 C1608.8,440.0 1606.7,446.7 1605.0,450.0 C1603.3,453.3 1602.5,451.2 1600.0,455.0 C1597.5,458.8 1594.2,467.5 1590.0,472.5 C1585.8,477.5 1580.8,481.7 1575.0,485.0 C1569.2,488.3 1561.7,490.6 1555.0,492.5 C1548.3,494.4 1541.7,495.4 1535.0,496.2 C1528.3,497.0 1518.3,497.3 1515.0,497.5 L1500.0,497.5Z" fill="#c7e89f" stroke="#fff" stroke-width="1.8" stroke-linejoin="round"/>
<path d="M1500.0,393.7 L1515.0,393.7 C1516.7,394.3 1521.7,397.1 1525.0,397.5 C1528.3,397.9 1530.8,394.9 1535.0,396.2 C1539.2,397.4 1545.8,401.4 1550.0,405.0 C1554.2,408.6 1557.5,412.5 1560.0,417.5 C1562.5,422.5 1563.3,429.6 1565.0,435.0 C1566.7,440.4 1568.3,446.7 1570.0,450.0 C1571.7,453.3 1574.6,452.1 1575.0,455.0 C1575.4,457.9 1575.0,463.8 1572.5,467.5 C1570.0,471.2 1565.0,474.6 1560.0,477.5 C1555.0,480.4 1547.9,483.1 1542.5,485.0 C1537.1,486.9 1532.1,487.9 1527.5,488.7 C1522.9,489.5 1517.1,489.8 1515.0,490.0 L1500.0,490.0Z" fill="#9ccf64" stroke="#fff" stroke-width="1.8" stroke-linejoin="round"/>
<path d="M1500.0,410.0 L1515.0,410.0 C1516.7,410.8 1522.1,414.2 1525.0,415.0 C1527.9,415.8 1530.4,413.3 1532.5,415.0 C1534.6,416.7 1535.8,421.3 1537.5,425.0 C1539.2,428.7 1540.8,433.2 1542.5,437.0 C1544.2,440.8 1545.8,445.0 1547.5,448.0 C1549.2,451.0 1551.5,451.8 1552.5,455.0 C1553.5,458.2 1555.0,464.4 1553.7,467.5 C1552.5,470.6 1548.1,472.0 1545.0,473.7 C1541.9,475.4 1539.2,476.7 1535.0,477.5 C1530.8,478.3 1523.3,478.3 1520.0,478.7 C1516.7,479.1 1515.8,479.8 1515.0,480.0 L1500.0,480.0Z" fill="#6eae36" stroke="#fff" stroke-width="1.8" stroke-linejoin="round"/>
<path d="M1500.0,455.0 L1515.0,455.0 C1515.8,456.7 1520.0,462.9 1520.0,465.0 C1520.0,467.1 1515.8,467.1 1515.0,467.5 L1500.0,467.5Z" fill="#488c20" stroke="#fff" stroke-width="1.8" stroke-linejoin="round"/>
<path d="M1670.0,491.0 L1654.5,491.0 C1652.9,491.2 1648.2,491.5 1645.0,492.5 C1641.8,493.5 1638.0,494.9 1635.0,497.0 C1632.0,499.1 1629.0,502.0 1627.0,505.0 C1625.0,508.0 1624.2,510.8 1623.0,515.0 C1621.8,519.2 1621.8,526.2 1620.0,530.0 C1618.2,533.8 1615.8,535.9 1612.0,538.0 C1608.2,540.1 1602.8,540.1 1597.5,542.5 C1592.2,544.9 1585.0,547.1 1580.0,552.5 C1575.0,557.9 1571.7,569.2 1567.5,575.0 C1563.3,580.8 1558.8,586.2 1555.0,587.5 C1551.2,588.8 1548.8,585.4 1545.0,582.5 C1541.2,579.6 1535.8,572.9 1532.5,570.0 C1529.2,567.1 1527.9,565.0 1525.0,565.0 C1522.1,565.0 1516.7,569.2 1515.0,570.0 L1500.0,570.0 L1500.0,655.0 L1670.0,655.0Z" fill="#fce4f0" stroke="#fff" stroke-width="1.8" stroke-linejoin="round"/>
<path d="M1670.0,530.0 L1654.5,530.0 C1652.9,532.1 1648.2,537.5 1645.0,542.5 C1641.8,547.5 1639.6,554.6 1635.0,560.0 C1630.4,565.4 1622.5,570.8 1617.5,575.0 C1612.5,579.2 1609.2,580.8 1605.0,585.0 C1600.8,589.2 1596.2,594.2 1592.5,600.0 C1588.8,605.8 1586.2,614.6 1582.5,620.0 C1578.8,625.4 1574.6,630.0 1570.0,632.5 C1565.4,635.0 1560.0,635.8 1555.0,635.0 C1550.0,634.2 1543.8,630.8 1540.0,627.5 C1536.2,624.2 1535.0,614.6 1532.5,615.0 C1530.0,615.4 1527.9,630.4 1525.0,630.0 C1522.1,629.6 1516.7,615.4 1515.0,612.5 L1500.0,612.5 L1500.0,655.0 L1670.0,655.0Z" fill="#f5c4e1" stroke="#fff" stroke-width="1.8" stroke-linejoin="round"/>
<path d="M1670.0,605.0 L1670.0,620.0 L1654.5,620.0 C1652.1,620.8 1644.9,623.3 1640.0,625.0 C1635.1,626.7 1628.3,631.2 1625.0,630.0 C1621.7,628.8 1617.5,621.2 1620.0,617.5 C1622.5,613.8 1634.2,609.6 1640.0,607.5 C1645.8,605.4 1652.1,605.4 1654.5,605.0Z" fill="#e796c4" stroke="#fff" stroke-width="1.8" stroke-linejoin="round"/>
</g>
<line x1="1514" y1="643" x2="1860.7" y2="643" stroke="#262626" stroke-width="1" opacity="0.75"/>
<line x1="1514" y1="43.3" x2="1514" y2="643" stroke="#262626" stroke-width="1" opacity="0.6"/>
<line x1="1654.3" y1="643" x2="1860.7" y2="643" stroke="#000" stroke-width="2"/>
<line x1="1687.5" y1="636" x2="1687.5" y2="643" stroke="#262626" stroke-width="1.6"/>
<line x1="1860.7" y1="636" x2="1860.7" y2="643" stroke="#262626" stroke-width="1.6"/>
<line x1="1514" y1="43.3" x2="1520" y2="43.3" stroke="#262626" stroke-width="1.2"/>
<g clip-path="url(#a3)" fill="none" stroke="#000" stroke-width="2" stroke-linejoin="round" stroke-linecap="butt">
<path d="M1860.5,64.0 C1859.8,61.9 1857.3,53.5 1856.2,51.2 C1855.1,48.9 1854.5,48.5 1853.7,50.0 C1852.9,51.5 1852.2,55.4 1851.2,60.0 C1850.2,64.6 1849.4,71.2 1847.5,77.5 C1845.6,83.8 1842.5,90.8 1840.0,97.5 C1837.5,104.2 1834.8,109.6 1832.5,117.5 C1830.2,125.4 1828.1,136.7 1826.2,145.0 C1824.3,153.3 1821.8,160.0 1821.2,167.5 C1820.6,175.0 1821.9,182.1 1822.5,190.0 C1823.1,197.9 1824.8,208.0 1825.0,215.0 C1825.2,222.0 1824.4,227.4 1823.6,231.8 C1822.8,236.2 1821.7,239.5 1820.4,241.3 C1819.1,243.2 1817.7,244.0 1815.6,242.9 C1813.5,241.8 1810.3,237.6 1807.7,235.0 C1805.1,232.4 1803.4,230.4 1800.0,227.5 C1796.6,224.6 1791.0,220.2 1787.5,217.5 C1784.0,214.8 1781.6,212.2 1778.7,211.2 C1775.8,210.1 1773.1,210.8 1770.0,211.2 C1766.9,211.6 1763.3,212.6 1760.0,213.7 C1756.7,214.8 1753.8,215.2 1750.0,217.5 C1746.2,219.8 1741.7,224.2 1737.5,227.5 C1733.3,230.8 1729.6,234.2 1725.0,237.5 C1720.4,240.8 1714.2,244.6 1710.0,247.5 C1705.8,250.4 1703.3,252.9 1700.0,255.0 C1696.7,257.1 1694.6,257.9 1690.0,260.0 C1685.4,262.1 1678.4,265.8 1672.5,267.5 C1666.6,269.2 1659.1,269.2 1654.5,270.0 C1649.9,270.8 1647.2,270.8 1645.0,272.5 C1642.8,274.2 1642.0,275.8 1641.2,280.0 C1640.4,284.2 1640.6,291.2 1640.0,297.5 C1639.4,303.8 1639.2,311.2 1637.5,317.5 C1635.8,323.8 1632.9,328.8 1630.0,335.0 C1627.1,341.2 1622.5,348.3 1620.0,355.0 C1617.5,361.7 1616.5,368.3 1615.0,375.0 C1613.5,381.7 1612.5,387.9 1611.2,395.0 C1610.0,402.1 1607.3,411.7 1607.5,417.5 C1607.7,423.3 1610.8,427.1 1612.5,430.0 C1614.2,432.9 1614.6,432.5 1617.5,435.0 C1620.4,437.5 1625.4,441.2 1630.0,445.0 C1634.6,448.8 1640.8,454.2 1645.0,457.5 C1649.2,460.8 1651.2,462.5 1655.0,465.0 C1658.8,467.5 1662.5,470.6 1667.5,472.5 C1672.5,474.4 1677.9,475.6 1685.0,476.2 C1692.1,476.8 1704.2,477.6 1710.0,476.2 C1715.8,474.8 1715.8,469.8 1720.0,467.5 C1724.2,465.2 1730.0,464.6 1735.0,462.5 C1740.0,460.4 1745.0,457.5 1750.0,455.0 C1755.0,452.5 1759.6,450.0 1765.0,447.5 C1770.4,445.0 1776.7,442.1 1782.5,440.0 C1788.3,437.9 1795.3,436.9 1800.0,435.0 C1804.7,433.1 1807.5,432.0 1810.9,428.9 C1814.3,425.8 1817.8,422.5 1820.4,416.1 C1823.1,409.7 1825.2,399.2 1826.8,390.7 C1828.4,382.2 1829.5,375.9 1829.9,365.3 C1830.3,354.7 1829.6,337.7 1829.3,327.1 C1829.0,316.5 1827.7,306.2 1828.3,301.7 C1828.9,297.2 1831.5,299.3 1833.1,300.1 C1834.7,300.9 1836.6,304.6 1837.9,306.5 C1839.2,308.4 1839.8,311.8 1841.1,311.3 C1842.4,310.8 1844.2,304.1 1845.8,303.3 C1847.4,302.5 1849.3,304.1 1850.6,306.5 C1851.9,308.9 1852.7,313.1 1853.8,317.6 C1854.9,322.1 1856.1,329.0 1857.0,333.5 C1857.9,338.0 1858.6,341.9 1859.2,344.6 C1859.8,347.4 1860.5,349.1 1860.7,350.0"/>
<path d="M1641.2,417.5 C1642.0,423.8 1644.4,424.6 1647.5,427.5 C1650.6,430.4 1655.4,432.7 1660.0,435.0 C1664.6,437.3 1670.0,439.1 1675.0,441.2 C1680.0,443.3 1684.6,445.8 1690.0,447.5 C1695.4,449.2 1702.1,451.2 1707.5,451.2 C1712.9,451.2 1717.5,448.9 1722.5,447.5 C1727.5,446.1 1732.1,444.6 1737.5,442.5 C1742.9,440.4 1750.0,436.7 1755.0,435.0 C1760.0,433.3 1761.7,434.2 1767.5,432.5 C1773.3,430.8 1784.4,427.2 1790.0,425.0 C1795.6,422.8 1798.3,421.5 1801.3,419.3 C1804.3,417.1 1805.9,414.6 1808.0,412.0 C1810.1,409.4 1812.2,408.0 1814.0,403.4 C1815.8,398.8 1817.7,391.8 1818.8,384.4 C1819.9,377.0 1820.7,367.4 1820.4,358.9 C1820.1,350.4 1818.8,343.0 1817.2,333.5 C1815.6,324.0 1813.6,311.2 1810.9,301.7 C1808.2,292.2 1804.5,283.2 1801.3,276.3 C1798.1,269.4 1795.5,264.6 1791.8,260.4 C1788.1,256.2 1783.1,253.3 1779.1,250.9 C1775.0,248.5 1771.5,247.0 1767.5,246.2 C1763.5,245.4 1759.2,244.7 1755.0,246.2 C1750.8,247.7 1747.0,251.4 1742.5,255.0 C1738.0,258.6 1733.0,264.2 1728.0,268.0 C1723.0,271.8 1717.2,274.7 1712.5,277.5 C1707.8,280.3 1704.6,282.1 1700.0,285.0 C1695.4,287.9 1690.0,291.2 1685.0,295.0 C1680.0,298.8 1674.2,303.3 1670.0,307.5 C1665.8,311.7 1662.5,315.4 1660.0,320.0 C1657.5,324.6 1657.1,329.6 1655.0,335.0 C1652.9,340.4 1649.4,346.7 1647.5,352.5 C1645.6,358.3 1644.5,363.8 1643.7,370.0 C1642.9,376.2 1642.9,382.1 1642.5,390.0 C1642.1,397.9 1640.4,411.2 1641.2,417.5Z"/>
<path d="M1667.5,367.5 C1668.3,358.8 1673.8,351.2 1677.5,345.0 C1681.2,338.8 1685.0,335.0 1690.0,330.0 C1695.0,325.0 1701.7,319.6 1707.5,315.0 C1713.3,310.4 1719.2,306.7 1725.0,302.5 C1730.8,298.3 1737.5,293.6 1742.5,290.0 C1747.5,286.4 1750.8,282.0 1755.0,281.2 C1759.2,280.4 1763.3,282.7 1767.5,285.0 C1771.7,287.3 1776.1,290.5 1780.0,295.0 C1783.9,299.5 1787.7,304.8 1791.0,312.0 C1794.3,319.2 1797.2,329.0 1800.0,338.0 C1802.8,347.0 1806.8,358.2 1807.5,366.0 C1808.2,373.8 1805.9,379.2 1804.0,385.0 C1802.1,390.8 1799.7,396.2 1796.0,401.0 C1792.3,405.8 1788.8,411.7 1782.0,414.0 C1775.2,416.3 1763.2,413.8 1755.0,415.0 C1746.8,416.2 1739.6,419.5 1732.5,421.2 C1725.4,422.9 1718.8,424.6 1712.5,425.0 C1706.2,425.4 1700.4,425.4 1695.0,423.7 C1689.6,422.0 1683.8,419.4 1680.0,415.0 C1676.2,410.6 1674.6,405.4 1672.5,397.5 C1670.4,389.6 1666.7,376.2 1667.5,367.5Z"/>
<path d="M1703.7,367.5 C1704.5,364.0 1710.6,359.2 1715.0,355.0 C1719.4,350.8 1725.8,345.8 1730.0,342.5 C1734.2,339.2 1737.5,337.1 1740.0,335.0 C1742.5,332.9 1742.5,333.1 1745.0,330.0 C1747.5,326.9 1752.1,317.7 1755.0,316.2 C1757.9,314.7 1760.2,319.9 1762.5,321.2 C1764.8,322.4 1766.2,320.6 1768.7,323.7 C1771.2,326.8 1774.8,334.4 1777.5,340.0 C1780.2,345.6 1782.9,352.9 1785.0,357.5 C1787.1,362.1 1790.4,363.3 1790.0,367.5 C1789.6,371.7 1785.8,378.8 1782.5,382.5 C1779.2,386.2 1774.6,388.3 1770.0,390.0 C1765.4,391.7 1760.0,392.7 1755.0,392.5 C1750.0,392.3 1744.6,388.9 1740.0,388.7 C1735.4,388.5 1731.2,391.8 1727.5,391.2 C1723.8,390.6 1720.4,387.5 1717.5,385.0 C1714.6,382.5 1712.3,379.1 1710.0,376.2 C1707.7,373.3 1702.9,371.0 1703.7,367.5Z"/>
<path d="M1860.5,89.0 C1859.6,88.1 1856.8,82.3 1855.0,83.7 C1853.2,85.1 1851.9,91.9 1850.0,97.5 C1848.1,103.1 1845.4,110.4 1843.7,117.5 C1842.0,124.6 1841.5,131.7 1840.0,140.0 C1838.5,148.3 1835.6,157.5 1835.0,167.5 C1834.4,177.5 1835.8,189.3 1836.3,200.0 C1836.8,210.7 1837.1,223.3 1837.9,231.8 C1838.7,240.3 1839.5,244.0 1841.1,250.9 C1842.7,257.8 1845.6,265.7 1847.4,273.1 C1849.2,280.5 1850.6,286.4 1852.2,295.4 C1853.8,304.4 1855.8,318.6 1857.0,327.1 C1858.2,335.6 1858.8,343.0 1859.2,346.2"/>
<path d="M1860.5,115.0 C1859.6,114.4 1856.5,110.8 1855.0,111.2 C1853.5,111.6 1852.0,111.5 1851.2,117.5 C1850.4,123.5 1850.5,133.8 1850.0,147.5 C1849.5,161.2 1848.3,184.9 1848.0,200.0 C1847.7,215.1 1847.7,226.4 1848.4,238.1 C1849.1,249.8 1851.0,261.4 1852.2,269.9 C1853.4,278.4 1854.2,282.6 1855.4,289.0 C1856.6,295.4 1858.4,304.3 1859.2,308.1 C1860.0,311.9 1860.3,311.4 1860.5,312.0"/>
<path d="M1730.0,42.5 C1731.2,43.5 1735.2,47.0 1737.5,48.7 C1739.8,50.4 1740.8,51.5 1743.7,52.5 C1746.6,53.5 1752.7,56.2 1755.0,54.5 C1757.3,52.8 1757.1,44.5 1757.5,42.5"/>
<path d="M1663.7,42.5 L1666.2,75.0"/>
<path d="M1622.5,68.7 L1627.5,110.0"/>
<path d="M1668.7,101.2 C1669.3,103.9 1670.2,111.2 1672.5,117.5 C1674.8,123.8 1680.8,135.2 1682.5,138.7"/>
<path d="M1635.0,135.0 C1636.2,138.3 1640.2,148.8 1642.5,155.0 C1644.8,161.2 1647.7,169.6 1648.7,172.5"/>
<path d="M1702.5,147.5 C1704.6,147.7 1711.2,148.5 1715.0,148.7 C1718.8,148.9 1722.1,149.3 1725.0,148.7 C1727.9,148.1 1729.4,145.8 1732.5,145.0 C1735.6,144.2 1741.8,143.9 1743.7,143.7"/>
<path d="M1671.2,185.0 C1673.1,185.6 1678.8,187.8 1682.5,188.7 C1686.2,189.6 1690.2,190.7 1693.7,190.5 C1697.2,190.3 1700.8,188.4 1703.7,187.5 C1706.6,186.6 1710.0,185.4 1711.2,185.0"/>
<path d="M1780.0,42.5 C1780.0,46.7 1779.4,60.6 1780.0,67.5 C1780.6,74.4 1783.1,81.0 1783.7,83.7"/>
<path d="M1812.5,42.5 C1812.6,46.7 1813.4,60.6 1813.0,67.5 C1812.6,74.4 1810.5,81.0 1810.0,83.7"/>
<path d="M1787.5,108.7 C1787.7,110.2 1789.5,114.0 1788.7,117.5 C1787.9,121.0 1786.0,126.2 1782.5,130.0 C1779.0,133.8 1770.0,138.3 1767.5,140.0"/>
<path d="M1806.2,110.0 C1806.0,111.2 1806.5,113.5 1805.0,117.5 C1803.5,121.5 1799.8,128.7 1797.5,133.7 C1795.2,138.7 1792.2,145.2 1791.2,147.5"/>
<path d="M1733.7,175.0 C1735.2,174.8 1739.4,175.2 1742.5,173.7 C1745.6,172.2 1749.2,167.9 1752.5,166.2 C1755.8,164.5 1759.2,164.1 1762.5,163.7 C1765.8,163.3 1770.8,163.7 1772.5,163.7"/>
<path d="M1855.4,368.5 L1858.5,374.8"/>
<path d="M1844.2,390.7 C1842.9,396.0 1838.2,416.1 1836.3,422.5 C1834.4,428.9 1833.6,427.8 1833.1,428.9"/>
<path d="M1858.5,384.4 C1857.7,384.9 1855.4,385.4 1853.8,387.5 C1852.2,389.6 1850.3,393.4 1849.0,397.1 C1847.7,400.8 1846.3,407.7 1845.8,409.8"/>
<path d="M1858.5,400.3 C1858.0,400.8 1856.7,399.7 1855.4,403.4 C1854.1,407.1 1851.4,419.3 1850.6,422.5"/>
<path d="M1853.8,422.5 C1853.3,425.4 1852.0,433.8 1851.0,440.0 C1850.0,446.2 1848.1,456.7 1847.5,460.0"/>
<path d="M1840.0,435.0 C1839.6,436.2 1839.2,438.8 1837.5,442.5 C1835.8,446.2 1832.5,453.3 1830.0,457.5 C1827.5,461.7 1823.8,465.8 1822.5,467.5"/>
<path d="M1841.8,451.2 C1840.8,454.3 1836.4,463.8 1835.5,470.0 C1834.6,476.2 1836.1,485.6 1836.2,488.7"/>
<path d="M1853.5,455.0 C1853.3,457.9 1851.6,466.2 1852.5,472.5 C1853.4,478.8 1857.7,489.2 1858.7,492.5"/>
<path d="M1785.0,466.2 C1787.5,465.4 1795.4,462.6 1800.0,461.2 C1804.6,459.8 1808.8,459.2 1812.5,457.5 C1816.2,455.8 1820.8,452.2 1822.5,451.2"/>
<path d="M1847.5,487.5 C1847.9,490.4 1848.1,498.8 1850.0,505.0 C1851.9,511.2 1857.2,521.7 1858.7,525.0"/>
<path d="M1838.7,516.2 C1840.2,518.1 1844.2,521.9 1847.5,527.5 C1850.8,533.1 1856.8,546.2 1858.7,550.0"/>
<path d="M1838.7,542.5 C1840.2,544.2 1844.2,546.9 1847.5,552.5 C1850.8,558.1 1856.8,572.2 1858.7,576.2"/>
<path d="M1843.7,568.7 C1845.2,571.4 1850.0,579.0 1852.5,585.0 C1855.0,591.0 1857.7,601.7 1858.7,605.0"/>
<path d="M1772.5,500.0 C1774.2,498.9 1778.8,495.4 1782.5,493.7 C1786.2,492.0 1790.6,491.2 1795.0,490.0 C1799.4,488.8 1806.4,486.8 1808.7,486.2"/>
<path d="M1737.5,510.0 C1739.6,507.5 1745.4,499.8 1750.0,495.0 C1754.6,490.2 1762.5,483.5 1765.0,481.2"/>
<path d="M1723.7,541.2 C1726.0,539.5 1733.8,533.9 1737.5,531.2 C1741.2,528.5 1743.7,527.7 1746.2,525.0 C1748.7,522.3 1751.5,516.7 1752.5,515.0"/>
<path d="M1680.0,537.5 C1682.1,536.9 1688.3,535.2 1692.5,533.7 C1696.7,532.2 1700.6,530.0 1705.0,528.7 C1709.4,527.5 1716.4,526.6 1718.7,526.2"/>
<path d="M1760.0,546.2 C1761.7,545.8 1767.7,543.5 1770.0,543.7 C1772.3,543.9 1772.5,547.9 1773.7,547.5 C1775.0,547.1 1776.5,543.9 1777.5,541.2 C1778.5,538.5 1779.6,532.9 1780.0,531.2"/>
<path d="M1671.2,577.5 C1672.7,574.6 1675.0,564.2 1680.0,560.0 C1685.0,555.8 1697.7,553.8 1701.2,552.5"/>
<path d="M1711.2,578.7 C1711.6,576.6 1709.1,570.2 1713.7,566.2 C1718.3,562.2 1734.5,556.9 1738.7,555.0"/>
<path d="M1770.0,588.7 C1771.2,586.4 1774.4,578.3 1777.5,575.0 C1780.6,571.7 1786.8,571.4 1788.7,568.7 C1790.6,566.0 1788.7,560.4 1788.7,558.7"/>
<path d="M1806.2,586.2 L1822.5,548.7"/>
<path d="M1812.5,622.5 C1813.8,619.6 1817.5,611.0 1820.0,605.0 C1822.5,599.0 1826.2,589.3 1827.5,586.2"/>
<path d="M1663.7,602.5 C1663.5,605.4 1662.5,613.3 1662.5,620.0 C1662.5,626.7 1663.5,638.8 1663.7,642.5"/>
<path d="M1703.7,605.0 C1703.5,607.5 1701.5,613.8 1702.5,620.0 C1703.5,626.2 1708.8,638.8 1710.0,642.5"/>
<path d="M1761.2,613.7 L1758.7,642.5"/>
<path d="M1791.2,607.0 C1790.2,607.5 1786.7,607.0 1785.0,610.0 C1783.3,613.0 1781.8,619.6 1781.2,625.0 C1780.6,630.4 1781.2,639.6 1781.2,642.5"/>
<path d="M1635.0,577.5 C1636.7,574.6 1641.7,565.6 1645.0,560.0 C1648.3,554.4 1653.3,546.4 1655.0,543.7"/>
<path d="M1625.0,601.2 C1624.6,604.8 1622.9,615.6 1622.5,622.5 C1622.1,629.4 1622.5,639.2 1622.5,642.5"/>
</g>
<text x="1687.3" y="26.6" text-anchor="middle" font-family="'Liberation Sans', Arial, Helvetica, sans-serif" font-weight="bold" font-size="31.5" word-spacing="2" fill="#000">(d) LOP = 0<tspan font-size="24" dy="-12.6" dx="0">o</tspan></text>
<text x="1512.5" y="684.8" text-anchor="middle" font-family="'Liberation Sans', Arial, Helvetica, sans-serif" font-size="29" fill="#262626">145<tspan font-size="23" dy="-11.5" dx="1.0">o</tspan><tspan dy="11.5" dx="4.0">E</tspan></text>
<text x="1686.0" y="684.8" text-anchor="middle" font-family="'Liberation Sans', Arial, Helvetica, sans-serif" font-size="29" fill="#262626">150<tspan font-size="23" dy="-11.5" dx="1.0">o</tspan><tspan dy="11.5" dx="4.0">W</tspan></text>
<text x="1856.2" y="684.8" text-anchor="middle" font-family="'Liberation Sans', Arial, Helvetica, sans-serif" font-size="29" fill="#262626">85<tspan font-size="23" dy="-11.5" dx="1.0">o</tspan><tspan dy="11.5" dx="4.0">W</tspan></text>
<text x="66.3" y="653.8" text-anchor="end" font-family="'Liberation Sans', Arial, Helvetica, sans-serif" font-size="29" fill="#262626">0</text>
<text x="66.3" y="453.9" text-anchor="end" font-family="'Liberation Sans', Arial, Helvetica, sans-serif" font-size="29" fill="#262626">4</text>
<text x="66.3" y="254.0" text-anchor="end" font-family="'Liberation Sans', Arial, Helvetica, sans-serif" font-size="29" fill="#262626">8</text>
<text x="66.3" y="54.1" text-anchor="end" font-family="'Liberation Sans', Arial, Helvetica, sans-serif" font-size="29" fill="#262626">12</text>
<text transform="translate(20.6,344) rotate(-90)" text-anchor="middle" font-family="'Liberation Sans', Arial, Helvetica, sans-serif" font-size="28.8" fill="#262626">month</text>
<linearGradient id="cb" x1="0" x2="1" y1="0" y2="0">
<stop offset="0.0000" stop-color="#8e0152"/>
<stop offset="0.1000" stop-color="#c51b7d"/>
<stop offset="0.2000" stop-color="#de77ae"/>
<stop offset="0.3000" stop-color="#f1b6da"/>
<stop offset="0.4000" stop-color="#fde0ef"/>
<stop offset="0.5000" stop-color="#f7f7f7"/>
<stop offset="0.6000" stop-color="#e6f5d0"/>
<stop offset="0.7000" stop-color="#b8e186"/>
<stop offset="0.8000" stop-color="#7fbc41"/>
<stop offset="0.9000" stop-color="#4d9221"/>
<stop offset="1.0000" stop-color="#276419"/>
</linearGradient>
<rect x="467.7" y="763.2" width="934.9" height="25.8" fill="url(#cb)" stroke="#262626" stroke-width="1.3"/>
<line x1="546.0" y1="779" x2="546.0" y2="789" stroke="#262626" stroke-width="1.3"/>
<text x="545.0" y="831.8" text-anchor="middle" font-family="'Liberation Sans', Arial, Helvetica, sans-serif" font-size="29" fill="#262626">-2</text>
<line x1="643.3" y1="779" x2="643.3" y2="789" stroke="#262626" stroke-width="1.3"/>
<text x="642.3" y="831.8" text-anchor="middle" font-family="'Liberation Sans', Arial, Helvetica, sans-serif" font-size="29" fill="#262626">-1.5</text>
<line x1="740.6" y1="779" x2="740.6" y2="789" stroke="#262626" stroke-width="1.3"/>
<text x="739.6" y="831.8" text-anchor="middle" font-family="'Liberation Sans', Arial, Helvetica, sans-serif" font-size="29" fill="#262626">-1</text>
<line x1="837.9" y1="779" x2="837.9" y2="789" stroke="#262626" stroke-width="1.3"/>
<text x="836.9" y="831.8" text-anchor="middle" font-family="'Liberation Sans', Arial, Helvetica, sans-serif" font-size="29" fill="#262626">-0.5</text>
<line x1="935.2" y1="779" x2="935.2" y2="789" stroke="#262626" stroke-width="1.3"/>
<text x="934.2" y="831.8" text-anchor="middle" font-family="'Liberation Sans', Arial, Helvetica, sans-serif" font-size="29" fill="#262626">0</text>
<line x1="1032.5" y1="779" x2="1032.5" y2="789" stroke="#262626" stroke-width="1.3"/>
<text x="1031.5" y="831.8" text-anchor="middle" font-family="'Liberation Sans', Arial, Helvetica, sans-serif" font-size="29" fill="#262626">0.5</text>
<line x1="1129.8" y1="779" x2="1129.8" y2="789" stroke="#262626" stroke-width="1.3"/>
<text x="1128.8" y="831.8" text-anchor="middle" font-family="'Liberation Sans', Arial, Helvetica, sans-serif" font-size="29" fill="#262626">1</text>
<line x1="1227.1" y1="779" x2="1227.1" y2="789" stroke="#262626" stroke-width="1.3"/>
<text x="1226.1" y="831.8" text-anchor="middle" font-family="'Liberation Sans', Arial, Helvetica, sans-serif" font-size="29" fill="#262626">1.5</text>
<line x1="1324.4" y1="779" x2="1324.4" y2="789" stroke="#262626" stroke-width="1.3"/>
<text x="1323.4" y="831.8" text-anchor="middle" font-family="'Liberation Sans', Arial, Helvetica, sans-serif" font-size="29" fill="#262626">2</text>
<text x="856" y="881.3" font-family="'Liberation Sans', Arial, Helvetica, sans-serif" font-size="29" fill="#262626">x10</text>
<text x="907" y="867.6" font-family="'Liberation Sans', Arial, Helvetica, sans-serif" font-size="22" fill="#262626">-2</text>
<text x="939" y="881.3" font-family="'Liberation Sans', Arial, Helvetica, sans-serif" font-size="29" fill="#262626">N/m</text>
<text x="997.6" y="867.6" font-family="'Liberation Sans', Arial, Helvetica, sans-serif" font-size="22" fill="#262626">2</text></svg></body></html>
